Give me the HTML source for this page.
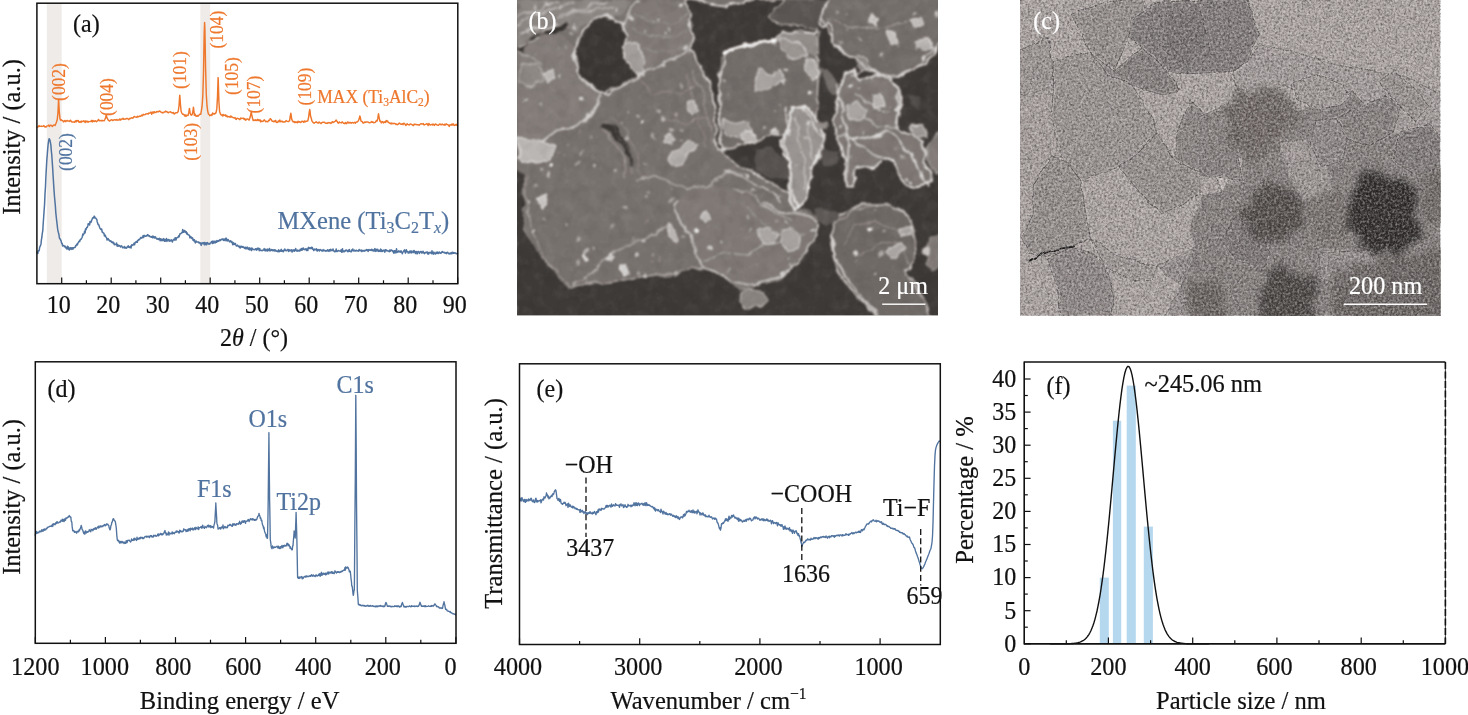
<!DOCTYPE html>
<html lang="en"><head><meta charset="utf-8"><title>Figure: MXene characterization</title>
<style>
html,body{margin:0;padding:0;background:#fff;}
body{width:1468px;height:715px;overflow:hidden;}
svg{display:block;}
svg text{font-family:"Liberation Serif","Times New Roman",serif;}
</style></head><body>
<svg width="1468" height="715" viewBox="0 0 1468 715">
<rect width="1468" height="715" fill="#fff"/>
<g id="panel-a">
<rect x="46.8" y="3.2" width="14.9" height="280.5" fill="#efebe8"/>
<rect x="200.3" y="3.2" width="9.9" height="280.5" fill="#efebe8"/>
<polyline points="36.9,127.7 37.6,126.9 38.3,126.7 39.0,125.6 39.7,126.4 40.4,126.3 41.1,126.4 41.8,126.1 42.5,126.4 43.2,126.1 43.9,125.6 44.6,126.8 45.3,126.8 46.0,127.2 46.7,126.2 47.4,125.9 48.1,125.7 48.8,125.1 49.5,126.5 50.2,125.3 50.9,125.2 51.6,125.6 52.3,126.5 53.0,125.7 53.7,125.0 54.4,125.0 55.1,125.5 55.8,123.8 56.5,121.9 57.2,119.8 57.9,113.4 58.6,99.5 58.6,99.5 59.3,112.0 60.0,118.9 60.7,120.3 61.4,119.7 62.1,120.6 62.8,120.6 63.5,121.9 64.2,121.2 64.9,120.4 65.6,121.7 66.3,121.1 67.0,120.4 67.7,121.0 68.4,121.0 69.1,120.9 69.8,121.4 70.5,120.2 71.2,121.2 71.9,122.0 72.6,121.9 73.3,122.0 74.0,122.0 74.7,122.3 75.4,120.8 76.1,121.9 76.8,120.4 77.5,121.1 78.2,120.4 78.9,122.1 79.6,122.2 80.3,121.4 81.0,122.4 81.7,121.1 82.4,121.5 83.1,121.5 83.8,120.8 84.5,121.6 85.2,122.4 85.9,120.8 86.6,121.8 87.3,121.2 88.0,122.3 88.7,121.5 89.4,121.6 90.1,121.6 90.8,121.4 91.5,120.4 92.2,122.0 92.9,120.4 93.6,121.3 94.3,121.5 95.0,120.7 95.7,121.2 96.4,121.7 97.1,121.1 97.8,120.6 98.5,119.4 99.2,120.5 99.9,120.7 100.6,120.7 101.3,120.4 102.0,121.0 102.7,120.4 103.4,120.6 104.1,120.8 104.8,119.5 105.5,118.1 106.2,115.3 106.3,115.0 106.9,117.6 107.6,118.8 108.3,120.1 109.0,120.6 109.7,121.0 110.4,120.3 111.1,119.9 111.8,119.8 112.5,120.5 113.2,120.3 113.9,119.8 114.6,119.9 115.3,119.7 116.0,120.3 116.7,119.4 117.4,120.0 118.1,120.2 118.8,119.9 119.5,119.1 120.2,120.2 120.9,119.0 121.6,119.6 122.3,118.9 123.0,118.2 123.7,119.3 124.4,119.2 125.1,118.9 125.8,119.1 126.5,118.5 127.2,118.4 127.9,118.6 128.6,119.7 129.3,119.0 130.0,118.2 130.7,118.6 131.4,117.9 132.1,117.7 132.8,118.3 133.5,117.3 134.2,116.5 134.9,116.8 135.6,117.1 136.3,117.0 137.0,117.4 137.7,116.2 138.4,116.8 139.1,116.5 139.8,116.0 140.5,116.3 141.2,115.9 141.9,115.0 142.6,115.8 143.3,114.3 144.0,114.8 144.7,114.6 145.4,114.6 146.1,113.8 146.8,113.9 147.5,113.7 148.2,114.1 148.9,112.9 149.6,113.2 150.3,112.8 151.0,112.1 151.7,114.2 152.4,112.6 153.1,111.7 153.8,113.2 154.5,111.7 155.2,112.4 155.9,112.6 156.6,111.6 157.3,111.7 158.0,111.5 158.7,111.8 159.4,111.0 160.1,111.2 160.8,111.9 161.5,112.6 162.2,112.4 162.9,113.0 163.6,112.5 164.3,111.9 165.0,112.1 165.7,111.1 166.4,111.8 167.1,111.8 167.8,112.5 168.5,112.8 169.2,112.1 169.9,112.1 170.6,111.7 171.3,112.6 172.0,112.8 172.7,113.0 173.4,112.4 174.1,114.0 174.8,113.6 175.5,113.0 176.2,112.7 176.9,112.7 177.6,112.5 178.3,110.9 179.0,106.0 179.7,95.5 179.8,95.2 180.4,103.8 181.1,111.3 181.8,113.0 182.5,114.2 183.2,114.2 183.9,114.4 184.6,116.0 185.3,114.9 186.0,116.4 186.7,115.2 187.4,115.4 188.1,115.4 188.8,112.4 189.4,108.4 189.5,108.6 190.2,113.5 190.9,114.9 191.6,115.2 192.3,114.1 193.0,111.0 193.4,107.3 193.7,109.0 194.4,115.3 195.1,114.2 195.8,116.0 196.5,116.2 197.2,115.6 197.9,116.2 198.6,115.6 199.3,114.6 200.0,114.2 200.7,114.3 201.4,110.7 202.1,106.2 202.8,95.7 203.5,72.7 204.2,33.2 204.6,22.5 204.9,29.3 205.6,69.2 206.3,94.5 207.0,105.7 207.7,111.1 208.4,114.0 209.1,114.5 209.8,115.7 210.5,115.3 211.2,114.7 211.9,115.4 212.6,112.9 213.3,113.7 214.0,114.2 214.7,113.5 215.4,113.6 216.1,112.3 216.8,108.9 217.5,96.9 218.1,77.6 218.2,78.3 218.9,101.5 219.6,111.8 220.3,113.4 221.0,114.9 221.7,115.0 222.4,115.9 223.1,114.4 223.8,115.7 224.5,115.4 225.2,114.8 225.9,116.2 226.6,115.4 227.3,116.9 228.0,116.5 228.7,116.8 229.4,116.6 230.1,117.2 230.8,115.9 231.5,117.1 232.2,116.9 232.9,117.6 233.6,117.6 234.3,118.1 235.0,117.5 235.7,119.1 236.4,119.4 237.1,118.2 237.8,118.4 238.5,118.6 239.2,119.2 239.9,119.7 240.6,118.1 241.3,118.5 242.0,118.3 242.7,118.4 243.4,118.2 244.1,119.4 244.8,118.6 245.5,120.2 246.2,119.9 246.9,119.0 247.6,119.0 248.3,119.2 249.0,120.2 249.7,118.5 250.4,116.3 251.1,112.5 251.3,112.0 251.8,114.9 252.5,118.1 253.2,120.5 253.9,120.1 254.6,120.4 255.3,119.8 256.0,120.4 256.7,120.4 257.4,119.3 258.1,120.7 258.8,119.7 259.5,120.7 260.2,119.9 260.9,121.9 261.6,121.0 262.3,121.4 263.0,121.5 263.7,120.3 264.4,119.8 265.1,120.9 265.8,121.7 266.5,121.3 267.2,121.7 267.9,121.7 268.6,120.3 269.3,120.6 270.0,119.3 270.2,118.6 270.7,119.0 271.4,119.8 272.1,121.2 272.8,121.2 273.5,121.7 274.2,121.0 274.9,121.6 275.6,120.4 276.3,122.1 277.0,122.5 277.7,122.3 278.4,120.8 279.1,121.8 279.8,120.0 280.5,121.8 281.2,121.6 281.9,121.1 282.6,121.9 283.3,121.8 284.0,122.2 284.7,121.8 285.4,121.8 286.1,120.6 286.8,121.1 287.5,121.4 288.2,121.7 288.9,121.2 289.6,120.9 290.3,115.8 290.8,113.3 291.0,114.0 291.7,119.1 292.4,120.8 293.1,121.8 293.8,121.4 294.5,122.6 295.2,121.7 295.9,122.5 296.6,121.9 297.3,122.7 298.0,121.2 298.7,122.2 299.4,121.7 300.1,122.1 300.8,122.6 301.5,121.4 302.2,121.3 302.9,121.5 303.6,122.2 304.3,121.0 305.0,122.0 305.7,121.2 306.4,121.1 307.1,121.2 307.8,120.8 308.5,118.0 309.2,112.4 309.7,109.5 309.9,110.2 310.6,116.3 311.3,118.5 312.0,121.1 312.7,121.9 313.4,122.7 314.1,123.3 314.8,122.6 315.5,122.4 316.2,121.8 316.9,122.5 317.6,122.9 318.3,123.2 319.0,122.0 319.7,122.6 320.4,123.0 321.1,123.6 321.8,122.7 322.5,122.3 323.2,122.2 323.9,122.4 324.6,122.3 325.3,123.1 326.0,123.3 326.7,123.1 327.4,123.4 328.1,122.5 328.8,123.0 329.5,122.6 330.2,122.8 330.9,123.4 331.6,122.7 332.3,121.7 333.0,122.6 333.7,122.2 334.4,121.6 335.1,121.4 335.8,120.6 336.2,120.0 336.5,120.7 337.2,121.4 337.9,122.9 338.6,123.2 339.3,122.0 340.0,122.6 340.7,122.6 341.4,122.8 342.1,121.8 342.8,122.5 343.5,123.2 344.2,123.3 344.9,123.7 345.6,122.5 346.3,123.7 347.0,123.0 347.7,121.9 348.4,123.0 349.1,122.4 349.8,122.9 350.5,122.5 351.2,123.2 351.9,122.7 352.6,122.4 353.3,123.1 354.0,122.7 354.7,122.3 355.4,123.2 356.1,122.2 356.8,122.0 357.5,121.9 358.2,120.9 358.9,119.7 359.6,116.9 359.8,116.0 360.3,117.3 361.0,121.0 361.7,121.3 362.4,121.9 363.1,123.2 363.8,122.9 364.5,122.1 365.2,122.4 365.9,122.0 366.6,122.0 367.3,121.9 368.0,121.9 368.7,122.6 369.4,122.7 370.1,122.7 370.8,122.3 371.5,121.6 372.2,122.3 372.9,121.8 373.6,122.8 374.3,122.6 375.0,122.6 375.7,121.8 376.4,120.6 377.1,121.1 377.8,118.4 378.5,113.8 378.5,113.8 379.2,117.8 379.9,121.2 380.6,121.0 381.3,122.9 382.0,121.9 382.7,121.6 383.4,122.9 384.1,122.3 384.8,121.8 385.5,122.5 386.2,120.4 386.9,121.5 387.0,121.3 387.6,120.9 388.3,122.5 389.0,122.6 389.7,123.2 390.4,123.7 391.1,122.9 391.8,123.9 392.5,123.4 393.2,123.3 393.9,123.7 394.6,123.4 395.3,123.6 396.0,124.5 396.7,124.0 397.4,124.7 398.1,124.3 398.8,123.5 399.5,123.1 400.2,123.7 400.9,124.3 401.6,124.2 402.3,123.7 403.0,124.7 403.7,123.2 404.4,123.5 405.1,124.3 405.8,125.5 406.5,124.5 407.2,123.7 407.9,124.6 408.6,124.7 409.3,124.9 410.0,124.1 410.7,123.9 411.4,124.5 412.1,124.6 412.8,125.3 413.5,125.6 414.2,124.1 414.9,124.2 415.6,124.5 416.3,124.4 417.0,124.8 417.7,124.8 418.4,124.7 419.1,125.3 419.8,124.5 420.5,124.0 421.2,123.7 421.9,124.0 422.6,124.0 423.3,123.6 424.0,125.0 424.7,124.7 425.4,124.4 426.1,124.1 426.8,123.7 427.5,124.1 428.2,125.6 428.9,123.4 429.6,124.7 430.3,125.0 431.0,124.7 431.7,124.4 432.4,125.0 433.1,124.0 433.8,124.9 434.5,125.4 435.2,124.0 435.9,124.1 436.6,124.7 437.3,125.1 438.0,125.3 438.7,125.0 439.4,124.2 440.1,124.0 440.8,124.7 441.5,124.8 442.2,124.0 442.9,124.6 443.6,124.8 444.3,125.2 445.0,124.1 445.7,124.9 446.4,124.0 447.1,124.4 447.8,124.6 448.5,125.4 449.2,126.4 449.9,124.7 450.6,124.9 451.3,125.2 452.0,123.9 452.7,125.0 453.4,123.9 454.1,125.5 454.8,125.4 455.5,124.9 456.2,124.2 456.9,125.5 457.6,124.7" fill="none" stroke="#ee772c" stroke-width="1.45" stroke-linejoin="round" />
<polyline points="36.9,253.3 37.4,252.1 37.8,253.5 38.3,250.9 38.7,250.5 39.2,250.7 39.6,247.5 40.1,246.4 40.5,245.6 41.0,243.9 41.4,239.9 41.9,237.0 42.3,233.3 42.8,230.5 43.2,223.5 43.7,216.7 44.1,210.7 44.6,203.8 45.0,193.9 45.5,186.5 45.9,176.3 46.4,167.4 46.8,160.1 47.3,154.2 47.7,148.9 48.2,143.8 48.6,141.2 49.1,138.7 49.5,139.2 50.0,140.4 50.4,142.3 50.9,145.3 51.3,150.5 51.8,155.3 52.2,161.2 52.7,168.6 53.1,175.7 53.6,183.8 54.0,189.9 54.5,196.8 54.9,201.0 55.4,206.5 55.8,212.6 56.3,217.3 56.7,220.8 57.2,225.2 57.6,228.7 58.1,231.6 58.5,232.9 59.0,235.0 59.4,238.0 59.9,239.0 60.3,239.1 60.8,240.4 61.2,241.3 61.7,243.4 62.1,243.3 62.6,245.9 63.0,245.5 63.5,245.5 63.9,245.4 64.4,246.8 64.8,246.3 65.3,246.2 65.7,247.7 66.2,247.6 66.6,248.9 67.1,248.3 67.5,246.2 68.0,249.0 68.4,247.1 68.9,249.7 69.3,250.0 69.8,248.3 70.2,247.8 70.7,247.7 71.1,249.4 71.6,248.3 72.0,247.8 72.5,247.8 72.9,249.3 73.4,247.7 73.8,247.8 74.3,247.6 74.7,247.5 75.2,247.3 75.6,245.7 76.1,245.8 76.5,244.7 77.0,244.1 77.4,244.9 77.9,243.0 78.3,242.7 78.8,241.6 79.2,241.1 79.7,241.5 80.1,239.9 80.6,239.3 81.0,239.4 81.5,238.5 81.9,237.8 82.4,236.4 82.8,234.1 83.3,235.0 83.7,234.0 84.2,233.5 84.6,231.2 85.1,232.8 85.5,229.1 86.0,229.6 86.4,228.4 86.9,227.3 87.3,227.5 87.8,225.9 88.2,223.7 88.7,223.8 89.1,224.3 89.6,224.9 90.0,221.4 90.5,221.9 90.9,222.5 91.4,221.3 91.8,220.0 92.3,218.7 92.7,217.8 93.2,218.1 93.6,218.0 94.1,216.3 94.5,216.3 95.0,218.1 95.4,218.0 95.9,218.2 96.3,219.0 96.8,219.4 97.2,221.7 97.7,223.3 98.1,224.6 98.6,224.5 99.0,225.6 99.5,227.0 99.9,228.1 100.4,228.8 100.8,229.5 101.3,229.0 101.7,229.2 102.2,232.0 102.6,232.1 103.1,233.0 103.5,233.0 104.0,233.3 104.4,235.9 104.9,235.8 105.3,235.2 105.8,236.9 106.2,237.4 106.7,238.1 107.1,240.0 107.6,238.9 108.0,238.5 108.5,239.8 108.9,239.6 109.4,240.8 109.8,240.9 110.3,241.3 110.7,240.9 111.2,241.9 111.6,241.5 112.1,242.6 112.5,242.3 113.0,242.0 113.4,243.5 113.9,242.9 114.3,244.7 114.8,244.2 115.2,244.5 115.7,244.4 116.1,244.5 116.6,243.0 117.0,245.9 117.5,244.6 117.9,246.2 118.4,245.2 118.8,245.8 119.3,246.0 119.7,245.6 120.2,246.4 120.6,247.0 121.1,246.4 121.5,245.8 122.0,246.4 122.4,247.1 122.9,247.9 123.3,247.7 123.8,247.4 124.2,246.5 124.7,248.0 125.1,247.5 125.6,247.3 126.0,248.3 126.5,248.0 126.9,247.8 127.4,246.4 127.8,246.7 128.3,245.8 128.7,247.2 129.2,246.9 129.6,247.5 130.1,246.9 130.5,246.3 131.0,248.1 131.4,245.4 131.9,244.8 132.3,245.0 132.8,245.5 133.2,244.5 133.7,244.0 134.1,243.2 134.6,244.8 135.0,242.8 135.5,242.1 135.9,242.5 136.4,241.5 136.8,241.5 137.3,242.3 137.7,240.5 138.2,240.3 138.6,239.6 139.1,239.3 139.5,239.6 140.0,238.9 140.4,238.0 140.9,237.4 141.3,237.7 141.8,238.2 142.2,237.4 142.7,237.1 143.1,235.6 143.6,237.5 144.0,235.4 144.5,235.5 144.9,236.1 145.4,236.3 145.8,236.3 146.3,235.6 146.7,235.9 147.2,235.6 147.6,234.6 148.1,235.7 148.5,235.3 149.0,236.1 149.4,235.8 149.9,236.7 150.3,236.6 150.8,236.9 151.2,237.2 151.7,237.0 152.1,236.4 152.6,237.7 153.0,236.1 153.5,236.8 153.9,237.6 154.4,236.9 154.8,237.9 155.3,236.9 155.7,237.3 156.2,238.3 156.6,238.7 157.1,239.2 157.5,238.5 158.0,238.9 158.4,239.4 158.9,239.5 159.3,238.3 159.8,239.1 160.2,240.7 160.7,238.8 161.1,240.3 161.6,239.5 162.0,240.7 162.5,239.4 162.9,240.1 163.4,238.6 163.8,240.2 164.3,241.1 164.7,239.3 165.2,241.3 165.6,240.0 166.1,240.6 166.5,238.5 167.0,241.4 167.4,239.9 167.9,240.1 168.3,239.5 168.8,239.7 169.2,241.3 169.7,240.0 170.1,241.1 170.6,240.2 171.0,240.6 171.5,239.9 171.9,240.6 172.4,242.1 172.8,240.4 173.3,240.1 173.7,239.2 174.2,240.1 174.6,240.1 175.1,237.7 175.5,237.7 176.0,240.1 176.4,238.4 176.9,237.7 177.3,237.6 177.8,237.6 178.2,236.9 178.7,235.7 179.1,236.9 179.6,235.0 180.0,233.8 180.5,233.7 180.9,233.6 181.4,233.0 181.8,232.7 182.3,232.7 182.7,229.6 183.2,231.1 183.6,232.2 184.1,231.7 184.5,230.5 185.0,230.8 185.4,232.4 185.9,231.7 186.3,231.8 186.8,234.0 187.2,233.0 187.7,234.4 188.1,234.4 188.6,235.1 189.0,234.9 189.5,235.6 189.9,237.8 190.4,236.4 190.8,237.8 191.3,237.1 191.7,238.2 192.2,238.7 192.6,237.9 193.1,240.3 193.5,239.7 194.0,241.1 194.4,239.8 194.9,241.6 195.3,242.9 195.8,241.5 196.2,241.0 196.7,242.1 197.1,242.0 197.6,242.0 198.0,242.2 198.5,242.1 198.9,243.0 199.4,242.6 199.8,242.5 200.3,243.8 200.7,243.1 201.2,245.3 201.6,243.1 202.1,242.8 202.5,243.0 203.0,243.7 203.4,242.9 203.9,242.5 204.3,244.7 204.8,242.6 205.2,244.7 205.7,243.7 206.1,242.8 206.6,244.7 207.0,243.3 207.5,242.6 207.9,243.3 208.4,244.1 208.8,243.6 209.3,243.6 209.7,244.2 210.2,243.0 210.6,243.0 211.1,242.5 211.5,241.5 212.0,242.4 212.4,243.6 212.9,241.0 213.3,243.2 213.8,242.3 214.2,241.3 214.7,241.9 215.1,243.1 215.6,241.2 216.0,242.1 216.5,242.2 216.9,240.6 217.4,241.6 217.8,241.5 218.3,240.6 218.7,241.3 219.2,240.4 219.6,240.2 220.1,239.5 220.5,240.6 221.0,239.9 221.4,239.7 221.9,239.1 222.3,238.9 222.8,239.2 223.2,240.2 223.7,239.0 224.1,240.6 224.6,239.7 225.0,239.5 225.5,238.4 225.9,240.7 226.4,238.3 226.8,239.9 227.3,241.0 227.7,239.8 228.2,239.6 228.6,240.3 229.1,241.2 229.5,241.9 230.0,241.6 230.4,240.7 230.9,241.3 231.3,242.3 231.8,241.5 232.2,242.6 232.7,244.7 233.1,242.6 233.6,244.6 234.0,243.3 234.5,244.0 234.9,244.4 235.4,243.5 235.8,244.8 236.3,246.0 236.7,245.8 237.2,246.0 237.6,245.1 238.1,245.8 238.5,246.3 239.0,246.8 239.4,247.5 239.9,246.0 240.3,248.1 240.8,246.8 241.2,246.9 241.7,246.3 242.1,247.2 242.6,247.2 243.0,246.5 243.5,247.4 243.9,247.8 244.4,247.5 244.8,248.5 245.3,247.2 245.7,248.7 246.2,248.0 246.6,248.6 247.1,247.0 247.5,248.6 248.0,248.5 248.4,249.3 248.9,247.8 249.3,249.8 249.8,248.0 250.2,249.8 250.7,249.3 251.1,248.3 251.6,250.6 252.0,248.1 252.5,248.9 252.9,249.2 253.4,249.5 253.8,249.3 254.3,249.8 254.7,249.6 255.2,249.3 255.6,248.7 256.1,249.1 256.5,250.1 257.0,248.6 257.4,249.6 257.9,248.0 258.3,249.1 258.8,248.5 259.2,250.7 259.7,248.4 260.1,249.6 260.6,250.4 261.0,250.3 261.5,250.4 261.9,250.7 262.4,250.2 262.8,250.5 263.3,249.9 263.7,249.9 264.2,248.6 264.6,250.1 265.1,251.0 265.5,249.5 266.0,249.2 266.4,250.1 266.9,250.9 267.3,251.0 267.8,249.0 268.2,250.5 268.7,249.7 269.1,250.4 269.6,248.5 270.0,250.9 270.5,249.9 270.9,250.4 271.4,250.1 271.8,249.5 272.3,250.7 272.7,249.9 273.2,249.8 273.6,250.8 274.1,250.3 274.5,249.9 275.0,251.1 275.4,250.0 275.9,250.4 276.3,251.0 276.8,251.2 277.2,251.4 277.7,251.7 278.1,250.6 278.6,249.9 279.0,251.8 279.5,251.6 279.9,250.4 280.4,251.1 280.8,250.3 281.3,249.4 281.7,251.3 282.2,250.8 282.6,250.6 283.1,251.8 283.5,251.6 284.0,250.0 284.4,249.7 284.9,249.1 285.3,250.5 285.8,250.2 286.2,250.7 286.7,250.5 287.1,250.0 287.6,250.1 288.0,249.3 288.5,251.4 288.9,250.0 289.4,250.9 289.8,249.9 290.3,250.4 290.7,250.9 291.2,250.2 291.6,249.8 292.1,252.1 292.5,250.2 293.0,250.8 293.4,250.3 293.9,249.7 294.3,251.3 294.8,250.6 295.2,250.6 295.7,248.6 296.1,250.5 296.6,250.9 297.0,250.5 297.5,250.1 297.9,251.1 298.4,250.4 298.8,250.7 299.3,251.0 299.7,251.0 300.2,249.2 300.6,250.4 301.1,249.5 301.5,248.5 302.0,250.2 302.4,248.6 302.9,249.5 303.3,247.9 303.8,249.0 304.2,249.4 304.7,249.7 305.1,249.2 305.6,248.9 306.0,248.8 306.5,250.6 306.9,249.0 307.4,249.1 307.8,250.5 308.3,247.7 308.7,247.4 309.2,248.1 309.6,248.4 310.1,247.8 310.5,248.5 311.0,248.4 311.4,247.2 311.9,248.5 312.3,247.4 312.8,249.2 313.2,249.0 313.7,250.6 314.1,249.8 314.6,249.1 315.0,249.7 315.5,249.7 315.9,249.2 316.4,248.7 316.8,250.7 317.3,251.0 317.7,249.6 318.2,249.8 318.6,249.6 319.1,250.8 319.5,251.0 320.0,249.4 320.4,249.9 320.9,249.8 321.3,250.4 321.8,250.8 322.2,251.1 322.7,250.1 323.1,249.6 323.6,250.8 324.0,250.9 324.5,250.2 324.9,250.6 325.4,250.8 325.8,251.2 326.3,250.6 326.7,250.9 327.2,250.7 327.6,249.8 328.1,251.1 328.5,250.6 329.0,251.4 329.4,249.7 329.9,250.1 330.3,250.9 330.8,249.3 331.2,250.5 331.7,250.3 332.1,250.3 332.6,250.5 333.0,249.0 333.5,250.7 333.9,250.7 334.4,251.5 334.8,251.8 335.3,251.0 335.7,251.4 336.2,248.9 336.6,251.1 337.1,251.6 337.5,251.4 338.0,250.9 338.4,250.5 338.9,250.5 339.3,250.8 339.8,251.1 340.2,251.2 340.7,250.7 341.1,249.9 341.6,252.2 342.0,250.2 342.5,248.8 342.9,251.9 343.4,251.6 343.8,251.0 344.3,251.6 344.7,251.2 345.2,250.3 345.6,251.0 346.1,250.0 346.5,250.4 347.0,250.3 347.4,251.1 347.9,251.8 348.3,250.5 348.8,251.3 349.2,249.4 349.7,250.2 350.1,251.4 350.6,251.7 351.0,251.7 351.5,251.7 351.9,249.7 352.4,250.5 352.8,248.9 353.3,250.7 353.7,251.0 354.2,250.6 354.6,250.1 355.1,251.1 355.5,251.1 356.0,250.8 356.4,250.2 356.9,250.7 357.3,250.7 357.8,250.8 358.2,251.1 358.7,250.6 359.1,249.5 359.6,250.3 360.0,250.8 360.5,250.2 360.9,250.7 361.4,250.0 361.8,251.5 362.3,250.7 362.7,250.5 363.2,251.0 363.6,250.9 364.1,250.4 364.5,251.1 365.0,250.8 365.4,250.5 365.9,250.3 366.3,249.5 366.8,250.5 367.2,250.5 367.7,249.7 368.1,251.4 368.6,250.3 369.0,249.5 369.5,250.0 369.9,250.3 370.4,250.3 370.8,249.8 371.3,250.4 371.7,249.3 372.2,250.0 372.6,250.7 373.1,249.9 373.5,250.9 374.0,251.0 374.4,249.9 374.9,248.6 375.3,251.1 375.8,251.4 376.2,249.2 376.7,250.6 377.1,250.7 377.6,249.2 378.0,250.0 378.5,251.4 378.9,250.6 379.4,250.5 379.8,251.3 380.3,250.0 380.7,249.1 381.2,251.5 381.6,249.9 382.1,250.5 382.5,251.4 383.0,250.7 383.4,250.6 383.9,250.1 384.3,251.0 384.8,252.2 385.2,250.1 385.7,249.7 386.1,250.8 386.6,250.1 387.0,250.7 387.5,250.7 387.9,251.1 388.4,250.9 388.8,251.0 389.3,251.7 389.7,250.1 390.2,250.8 390.6,251.1 391.1,249.9 391.5,250.2 392.0,250.6 392.4,250.5 392.9,251.8 393.3,251.1 393.8,253.2 394.2,250.7 394.7,250.8 395.1,252.8 395.6,250.7 396.0,252.8 396.5,248.8 396.9,250.7 397.4,252.2 397.8,252.4 398.3,251.6 398.7,250.8 399.2,251.2 399.6,251.9 400.1,251.6 400.5,252.1 401.0,250.8 401.4,252.0 401.9,252.4 402.3,253.8 402.8,252.0 403.2,252.0 403.7,250.9 404.1,250.5 404.6,249.9 405.0,251.9 405.5,253.1 405.9,251.6 406.4,249.8 406.8,251.8 407.3,251.6 407.7,251.5 408.2,253.1 408.6,252.7 409.1,252.9 409.5,251.2 410.0,252.1 410.4,251.0 410.9,252.8 411.3,251.1 411.8,252.9 412.2,252.1 412.7,252.1 413.1,250.9 413.6,252.5 414.0,250.6 414.5,251.1 414.9,251.3 415.4,253.6 415.8,252.2 416.3,251.6 416.7,252.5 417.2,253.9 417.6,252.0 418.1,251.4 418.5,251.4 419.0,252.2 419.4,253.5 419.9,252.1 420.3,252.1 420.8,251.5 421.2,251.4 421.7,253.1 422.1,252.6 422.6,252.7 423.0,251.3 423.5,252.8 423.9,252.6 424.4,253.6 424.8,253.2 425.3,252.3 425.7,252.7 426.2,252.7 426.6,252.4 427.1,251.9 427.5,253.2 428.0,254.3 428.4,252.5 428.9,253.8 429.3,252.4 429.8,252.4 430.2,252.6 430.7,252.4 431.1,253.4 431.6,253.6 432.0,250.8 432.5,253.4 432.9,253.1 433.4,254.1 433.8,252.1 434.3,252.9 434.7,253.7 435.2,253.5 435.6,254.0 436.1,252.3 436.5,252.4 437.0,253.3 437.4,251.9 437.9,253.3 438.3,253.6 438.8,253.2 439.2,251.9 439.7,252.5 440.1,252.7 440.6,253.3 441.0,253.2 441.5,252.7 441.9,251.7 442.4,251.6 442.8,252.3 443.3,252.3 443.7,252.6 444.2,252.2 444.6,253.0 445.1,252.6 445.5,253.2 446.0,253.1 446.4,253.6 446.9,252.4 447.3,252.5 447.8,252.3 448.2,253.2 448.7,253.7 449.1,254.0 449.6,253.3 450.0,253.1 450.5,253.8 450.9,253.2 451.4,252.5 451.8,253.8 452.3,252.9 452.7,252.2 453.2,253.1 453.6,252.7 454.1,253.3 454.5,252.8 455.0,253.1 455.4,252.9 455.9,253.3 456.3,253.8 456.8,253.6 457.2,253.4 457.7,254.2" fill="none" stroke="#50739f" stroke-width="1.5" stroke-linejoin="round" />
<rect x="36.9" y="3.2" width="420.90000000000003" height="280.5" fill="none" stroke="#111" stroke-width="1.5"/>
<line x1="61.7" y1="283.7" x2="61.7" y2="277.4" stroke="#111" stroke-width="1.2" />
<text transform="translate(58.7 313.2) scale(1.0 1.06)" font-size="24" fill="#111" stroke="#111" stroke-width="0.2" text-anchor="middle" >10</text>
<line x1="111.2" y1="283.7" x2="111.2" y2="277.4" stroke="#111" stroke-width="1.2" />
<text transform="translate(108.2 313.2) scale(1.0 1.06)" font-size="24" fill="#111" stroke="#111" stroke-width="0.2" text-anchor="middle" >20</text>
<line x1="160.7" y1="283.7" x2="160.7" y2="277.4" stroke="#111" stroke-width="1.2" />
<text transform="translate(157.7 313.2) scale(1.0 1.06)" font-size="24" fill="#111" stroke="#111" stroke-width="0.2" text-anchor="middle" >30</text>
<line x1="210.2" y1="283.7" x2="210.2" y2="277.4" stroke="#111" stroke-width="1.2" />
<text transform="translate(207.2 313.2) scale(1.0 1.06)" font-size="24" fill="#111" stroke="#111" stroke-width="0.2" text-anchor="middle" >40</text>
<line x1="259.7" y1="283.7" x2="259.7" y2="277.4" stroke="#111" stroke-width="1.2" />
<text transform="translate(256.7 313.2) scale(1.0 1.06)" font-size="24" fill="#111" stroke="#111" stroke-width="0.2" text-anchor="middle" >50</text>
<line x1="309.2" y1="283.7" x2="309.2" y2="277.4" stroke="#111" stroke-width="1.2" />
<text transform="translate(306.2 313.2) scale(1.0 1.06)" font-size="24" fill="#111" stroke="#111" stroke-width="0.2" text-anchor="middle" >60</text>
<line x1="358.7" y1="283.7" x2="358.7" y2="277.4" stroke="#111" stroke-width="1.2" />
<text transform="translate(355.7 313.2) scale(1.0 1.06)" font-size="24" fill="#111" stroke="#111" stroke-width="0.2" text-anchor="middle" >70</text>
<line x1="408.2" y1="283.7" x2="408.2" y2="277.4" stroke="#111" stroke-width="1.2" />
<text transform="translate(405.2 313.2) scale(1.0 1.06)" font-size="24" fill="#111" stroke="#111" stroke-width="0.2" text-anchor="middle" >80</text>
<line x1="457.7" y1="283.7" x2="457.7" y2="277.4" stroke="#111" stroke-width="1.2" />
<text transform="translate(454.7 313.2) scale(1.0 1.06)" font-size="24" fill="#111" stroke="#111" stroke-width="0.2" text-anchor="middle" >90</text>
<line x1="86.4" y1="283.7" x2="86.4" y2="280.3" stroke="#111" stroke-width="1.2" />
<line x1="135.9" y1="283.7" x2="135.9" y2="280.3" stroke="#111" stroke-width="1.2" />
<line x1="185.4" y1="283.7" x2="185.4" y2="280.3" stroke="#111" stroke-width="1.2" />
<line x1="234.9" y1="283.7" x2="234.9" y2="280.3" stroke="#111" stroke-width="1.2" />
<line x1="284.4" y1="283.7" x2="284.4" y2="280.3" stroke="#111" stroke-width="1.2" />
<line x1="334.0" y1="283.7" x2="334.0" y2="280.3" stroke="#111" stroke-width="1.2" />
<line x1="383.5" y1="283.7" x2="383.5" y2="280.3" stroke="#111" stroke-width="1.2" />
<line x1="433.0" y1="283.7" x2="433.0" y2="280.3" stroke="#111" stroke-width="1.2" />
<text transform="translate(254.0 345.5) scale(1.0 1.06)" font-size="24" fill="#111" stroke="#111" stroke-width="0.2" text-anchor="middle" >2<tspan font-style="italic">θ</tspan> / (°)</text>
<text transform="translate(20.3 137.0) rotate(-90) scale(1.0 1.06)" font-size="24.4" fill="#111" stroke="#111" stroke-width="0.2" text-anchor="middle" >Intensity / (a.u.)</text>
<text transform="translate(73.0 31.6) scale(1.0 1.06)" font-size="24" fill="#111" stroke="#111" stroke-width="0.2" text-anchor="start" >(a)</text>
<text transform="translate(65.2 82.0) rotate(-90) scale(1.0 1.06)" font-size="17.5" fill="#ee772c" stroke="#ee772c" stroke-width="0.2" text-anchor="middle" >(002)</text>
<text transform="translate(112.8 97.0) rotate(-90) scale(1.0 1.06)" font-size="17.5" fill="#ee772c" stroke="#ee772c" stroke-width="0.2" text-anchor="middle" >(004)</text>
<text transform="translate(185.5 70.0) rotate(-90) scale(1.0 1.06)" font-size="17.5" fill="#ee772c" stroke="#ee772c" stroke-width="0.2" text-anchor="middle" >(101)</text>
<text transform="translate(196.5 141.8) rotate(-90) scale(1.0 1.06)" font-size="17.5" fill="#ee772c" stroke="#ee772c" stroke-width="0.2" text-anchor="middle" >(103)</text>
<text transform="translate(223.0 29.6) rotate(-90) scale(1.0 1.06)" font-size="17.5" fill="#ee772c" stroke="#ee772c" stroke-width="0.2" text-anchor="middle" >(104)</text>
<text transform="translate(237.5 76.0) rotate(-90) scale(1.0 1.06)" font-size="17.5" fill="#ee772c" stroke="#ee772c" stroke-width="0.2" text-anchor="middle" >(105)</text>
<text transform="translate(260.0 94.5) rotate(-90) scale(1.0 1.06)" font-size="17.5" fill="#ee772c" stroke="#ee772c" stroke-width="0.2" text-anchor="middle" >(107)</text>
<text transform="translate(310.5 86.5) rotate(-90) scale(1.0 1.06)" font-size="17.5" fill="#ee772c" stroke="#ee772c" stroke-width="0.2" text-anchor="middle" >(109)</text>
<text transform="translate(71.7 152.0) rotate(-90) scale(1.0 1.06)" font-size="17.5" fill="#50739f" stroke="#50739f" stroke-width="0.2" text-anchor="middle" >(002)</text>
<text transform="translate(317.3 103.2) scale(1.0 1.06)" font-size="17.5" fill="#ee772c" stroke="#ee772c" stroke-width="0.2" text-anchor="start" >MAX (Ti<tspan font-size="11.5" dy="2.5">3</tspan><tspan dy="-2.5">AlC</tspan><tspan font-size="11.5" dy="2.5">2</tspan><tspan dy="-2.5">)</tspan></text>
<text transform="translate(277.5 229.0) scale(1.0 1.06)" font-size="24.6" fill="#50739f" stroke="#50739f" stroke-width="0.2" text-anchor="start" >MXene (Ti<tspan font-size="16" dy="3.5">3</tspan><tspan dy="-3.5">C</tspan><tspan font-size="16" dy="3.5">2</tspan><tspan dy="-3.5">T</tspan><tspan font-size="16" dy="3.5" font-style="italic">x</tspan><tspan dy="-3.5">)</tspan></text>
</g>
<g id="panel-d">
<polyline points="35.3,535.7 35.3,534.3 35.8,533.8 36.2,533.4 36.7,531.4 37.1,533.3 37.6,532.8 38.0,532.4 38.5,532.8 38.9,532.7 39.4,531.2 39.8,531.1 40.3,531.2 40.7,531.9 41.2,531.6 41.6,529.8 42.1,529.7 42.5,531.0 43.0,531.4 43.4,529.8 43.9,529.1 44.3,530.3 44.8,528.9 45.0,529.0 45.2,529.5 45.7,529.9 46.1,529.0 46.6,528.3 47.0,528.6 47.5,527.3 47.9,527.4 48.4,526.9 48.8,526.9 49.3,526.5 49.7,526.5 50.2,526.1 50.6,526.3 51.1,526.0 51.5,526.0 52.0,526.6 52.4,524.1 52.9,526.1 53.0,525.0 53.3,524.7 53.8,523.6 54.2,524.2 54.7,524.2 55.1,524.8 55.6,522.8 56.0,523.6 56.5,523.3 56.9,521.7 57.4,521.8 57.8,523.0 58.3,522.9 58.7,522.9 59.2,522.3 59.6,521.9 60.1,521.5 60.4,521.2 60.5,522.1 61.0,520.3 61.4,520.7 61.9,521.0 62.3,519.2 62.8,521.4 63.2,519.5 63.7,519.9 64.1,521.6 64.6,519.0 65.0,519.5 65.0,519.1 65.5,520.3 65.9,517.8 66.4,517.8 66.8,518.2 67.3,517.7 67.7,517.3 68.2,516.7 68.6,517.1 69.1,516.4 69.2,515.4 69.5,516.5 70.0,516.4 70.4,517.2 70.9,517.2 71.0,519.0 71.3,521.3 71.8,522.0 72.2,526.9 72.7,530.4 73.0,531.0 73.1,530.2 73.6,530.7 74.0,531.1 74.5,532.4 74.9,531.3 75.4,532.1 75.8,532.0 76.0,532.5 76.3,532.2 76.7,533.2 77.2,531.2 77.6,531.8 78.1,531.7 78.5,531.9 79.0,530.0 79.0,531.0 79.4,530.9 79.9,529.3 80.3,528.6 80.8,526.9 81.0,526.2 81.2,525.4 81.7,527.2 82.1,529.5 82.6,529.9 83.0,531.0 83.0,531.0 83.5,532.8 83.9,533.6 84.4,532.2 84.8,534.2 85.0,532.8 85.3,531.1 85.7,530.9 86.2,533.0 86.6,531.9 87.1,532.4 87.5,532.1 88.0,531.5 88.4,531.9 88.9,531.3 89.3,529.7 89.8,530.9 90.2,530.7 90.7,531.8 91.1,529.3 91.6,530.0 92.0,529.5 92.5,529.5 92.9,530.7 93.4,529.5 93.8,528.6 94.3,528.9 94.7,529.2 95.0,528.5 95.2,527.7 95.6,528.1 96.1,529.4 96.5,528.7 97.0,527.8 97.4,527.3 97.9,527.5 98.3,526.2 98.8,528.0 99.2,527.4 99.7,527.1 100.1,525.8 100.6,526.1 101.0,527.0 101.5,526.6 101.9,525.9 102.4,526.5 102.8,526.7 103.3,525.3 103.7,525.3 104.2,524.8 104.6,524.5 105.1,525.9 105.5,525.5 105.8,525.0 106.0,525.2 106.4,523.9 106.9,523.9 107.3,524.6 107.8,524.2 108.0,524.5 108.2,525.0 108.7,525.3 109.1,527.3 109.6,529.2 110.0,528.7 110.0,529.9 110.5,528.5 110.9,525.7 111.4,524.9 111.8,522.4 112.0,522.0 112.3,522.1 112.7,519.9 113.2,518.7 113.3,518.7 113.6,518.6 114.1,520.3 114.5,520.5 115.0,521.1 115.0,521.0 115.4,522.1 115.9,525.4 116.0,526.0 116.3,528.1 116.8,535.3 117.2,538.8 117.3,540.0 117.7,540.6 118.1,540.9 118.6,540.2 119.0,542.0 119.0,540.9 119.5,542.1 119.9,543.4 120.4,541.5 120.8,541.9 121.3,542.6 121.7,541.4 122.0,542.8 122.2,541.4 122.6,542.3 123.1,542.5 123.5,542.1 124.0,543.6 124.4,542.1 124.9,542.4 125.3,543.3 125.8,543.3 126.2,540.6 126.7,541.5 127.1,542.6 127.6,540.4 128.0,540.7 128.5,540.3 128.9,540.2 129.4,540.2 129.8,541.2 130.0,541.0 130.3,541.9 130.7,542.0 131.2,540.7 131.6,539.0 132.1,540.4 132.5,540.0 133.0,540.5 133.4,540.0 133.9,538.5 134.3,540.2 134.8,538.1 135.2,539.0 135.7,539.7 136.1,539.6 136.6,540.5 137.0,537.2 137.5,539.2 137.9,539.4 138.4,538.5 138.8,539.1 139.3,537.6 139.7,538.9 140.2,538.7 140.6,537.3 141.0,538.0 141.1,537.5 141.5,537.7 142.0,537.3 142.4,538.6 142.9,537.8 143.3,538.6 143.8,538.4 144.2,537.4 144.7,537.1 145.1,536.4 145.6,536.4 146.0,536.4 146.5,537.2 146.9,536.1 147.4,536.8 147.8,536.8 148.3,536.2 148.7,536.3 149.2,537.5 149.6,537.6 150.1,535.6 150.5,535.9 151.0,535.7 151.0,536.0 151.4,535.7 151.9,537.1 152.3,536.4 152.8,536.8 153.2,537.1 153.7,535.3 154.1,535.4 154.6,535.5 155.0,536.3 155.5,535.3 155.9,535.8 156.4,536.2 156.8,536.1 157.3,535.5 157.7,534.5 158.2,533.8 158.6,535.9 159.1,535.3 159.5,534.1 160.0,534.4 160.4,534.4 160.9,533.3 161.3,534.8 161.8,533.9 162.0,534.5 162.2,534.1 162.7,534.7 163.1,533.7 163.5,533.5 163.6,533.8 164.0,532.8 164.5,531.6 164.9,530.7 165.0,530.5 165.4,532.9 165.8,532.5 166.3,535.1 166.5,534.5 166.7,533.7 167.2,534.9 167.6,534.4 168.1,533.6 168.5,531.9 169.0,535.2 169.4,532.9 169.9,533.0 170.3,533.8 170.8,533.6 171.2,533.7 171.7,533.1 172.1,532.0 172.6,533.8 173.0,532.3 173.5,533.1 173.9,533.3 174.4,533.7 174.8,532.5 175.3,532.3 175.7,532.2 176.2,530.9 176.3,532.3 176.6,531.6 177.1,531.3 177.5,531.1 178.0,532.1 178.4,531.6 178.9,533.1 179.3,532.9 179.8,530.1 180.2,531.6 180.7,530.6 181.1,531.8 181.6,531.4 182.0,531.9 182.5,531.3 182.9,531.6 183.4,530.6 183.8,528.8 184.3,529.7 184.7,529.9 185.2,530.1 185.6,529.6 186.1,531.6 186.5,530.1 187.0,531.2 187.4,529.8 187.9,531.3 188.3,528.9 188.8,530.2 189.2,528.6 189.7,529.9 190.0,529.5 190.1,530.8 190.6,528.1 191.0,528.6 191.5,529.4 191.9,529.0 192.4,528.0 192.8,529.9 193.3,528.9 193.7,529.8 194.2,529.0 194.6,527.7 195.1,528.1 195.5,529.6 196.0,527.3 196.4,527.9 196.9,528.7 197.3,528.9 197.8,528.7 198.2,526.8 198.7,529.5 199.1,527.6 199.6,527.7 200.0,527.6 200.5,527.3 200.9,526.6 201.4,527.1 201.5,527.3 201.8,528.3 202.3,526.1 202.7,525.2 203.2,527.5 203.6,527.3 204.1,527.6 204.5,528.3 205.0,526.3 205.4,526.9 205.9,527.1 206.3,527.7 206.8,527.4 207.2,525.9 207.7,525.4 208.1,526.2 208.6,525.1 209.0,527.2 209.5,526.0 209.9,525.9 210.0,526.2 210.4,525.6 210.8,527.6 211.3,526.7 211.7,526.3 212.2,527.2 212.6,526.7 213.1,527.4 213.5,527.0 213.5,528.1 214.0,525.1 214.4,523.9 214.8,522.0 214.9,521.4 215.3,513.4 215.8,504.4 215.8,503.0 216.2,510.6 216.7,518.6 216.8,522.0 217.1,523.9 217.6,525.2 218.0,528.5 218.0,529.0 218.5,528.5 218.9,528.8 219.4,527.9 219.8,527.6 220.3,527.4 220.7,529.0 221.2,527.9 221.6,527.8 222.1,526.5 222.5,527.8 223.0,525.0 223.4,528.8 223.9,527.5 224.3,527.6 224.8,526.4 225.0,527.5 225.2,526.6 225.7,527.8 226.1,527.0 226.6,527.4 227.0,527.9 227.5,527.3 227.9,525.1 228.4,525.7 228.8,525.5 229.3,525.5 229.7,524.4 230.2,524.3 230.6,525.2 231.1,525.2 231.5,526.0 232.0,525.2 232.4,526.4 232.9,523.7 233.3,523.9 233.8,525.1 234.2,524.5 234.7,523.8 235.0,524.5 235.1,525.1 235.6,525.2 236.0,525.2 236.5,523.7 236.9,523.9 237.4,524.0 237.8,523.7 238.3,524.3 238.7,523.0 239.2,523.5 239.6,521.3 240.1,523.6 240.5,524.2 241.0,522.7 241.4,523.4 241.9,521.1 242.3,522.0 242.8,520.9 243.2,522.3 243.7,522.3 244.1,520.7 244.6,521.0 245.0,521.5 245.0,521.0 245.5,523.3 245.9,521.2 246.4,521.2 246.8,521.2 247.3,521.0 247.7,520.5 248.2,519.4 248.6,519.8 249.1,521.5 249.5,520.3 250.0,519.7 250.4,518.7 250.9,519.6 251.3,519.6 251.8,518.9 252.2,520.0 252.7,518.6 253.0,519.0 253.1,518.9 253.6,519.9 254.0,519.5 254.5,520.4 254.9,519.4 255.4,519.4 255.8,520.3 256.0,520.0 256.3,519.7 256.7,519.5 257.2,518.0 257.6,516.8 258.1,516.3 258.5,515.5 258.9,514.2 259.0,513.4 259.4,515.2 259.9,516.1 260.3,518.4 260.8,518.0 261.0,519.0 261.2,520.5 261.7,520.2 262.1,522.7 262.6,525.1 263.0,525.5 263.5,528.2 263.9,528.8 263.9,527.2 264.4,530.4 264.8,532.0 265.3,533.3 265.7,533.8 266.0,536.0 266.2,536.7 266.6,534.9 267.1,538.2 267.5,538.0 267.5,538.2 268.0,514.4 268.2,500.0 268.4,480.5 268.9,436.5 268.9,432.6 269.3,470.7 269.6,500.0 269.8,508.2 270.2,534.8 270.3,540.0 270.7,542.2 271.1,545.9 271.4,547.6 271.6,548.0 272.0,548.7 272.5,545.9 272.9,547.2 273.4,548.0 273.8,548.0 274.3,546.9 274.7,547.1 275.0,547.3 275.2,547.2 275.6,547.4 276.1,546.8 276.5,546.6 277.0,546.2 277.4,546.8 277.9,548.1 278.3,546.2 278.8,547.7 279.2,548.4 279.7,547.0 280.0,546.8 280.1,548.7 280.6,546.6 281.0,548.0 281.5,546.5 281.9,545.5 282.4,546.7 282.8,547.8 283.3,545.7 283.7,546.5 284.2,545.2 284.6,545.3 285.1,546.2 285.3,545.8 285.5,545.5 286.0,545.7 286.4,545.8 286.9,543.5 287.3,543.4 287.8,543.6 287.8,543.5 288.2,545.9 288.7,544.4 289.1,544.9 289.6,546.3 290.0,546.5 290.0,548.2 290.5,546.9 290.9,548.0 291.4,549.1 291.6,549.5 291.8,549.7 292.3,549.7 292.7,545.8 293.0,546.0 293.2,542.7 293.6,538.0 294.1,532.2 294.1,531.0 294.5,531.8 295.0,536.0 295.2,538.0 295.4,533.1 295.9,519.2 296.1,512.4 296.3,520.1 296.8,536.2 297.0,545.0 297.2,556.4 297.6,577.3 297.7,577.7 298.1,577.6 298.6,578.4 299.0,577.0 299.5,577.6 299.9,578.5 300.0,577.5 300.4,577.1 300.8,577.1 301.3,576.7 301.7,576.5 302.2,578.8 302.6,577.4 303.1,578.5 303.5,577.5 304.0,576.9 304.4,576.5 304.9,576.8 305.0,576.5 305.3,576.5 305.8,577.2 306.2,575.8 306.7,576.5 307.1,576.7 307.6,576.1 308.0,576.1 308.5,576.6 308.9,576.6 309.4,576.0 309.8,576.0 310.3,575.5 310.7,576.4 311.2,575.8 311.6,574.6 312.1,575.5 312.5,576.2 313.0,575.9 313.4,574.9 313.9,576.1 314.3,576.0 314.8,575.9 315.2,576.6 315.5,575.3 315.7,575.1 316.1,575.7 316.6,575.0 317.0,575.9 317.5,576.0 317.9,575.4 318.4,575.5 318.8,574.2 319.3,575.3 319.7,573.7 320.2,576.3 320.6,575.5 321.1,573.2 321.5,572.3 322.0,575.4 322.4,573.6 322.9,574.6 323.3,573.1 323.8,574.1 324.2,573.4 324.7,574.3 325.1,573.5 325.6,574.9 326.0,573.0 326.5,574.6 326.9,573.5 327.4,573.9 327.8,572.1 328.3,571.9 328.7,574.1 329.2,572.2 329.6,572.8 330.0,573.0 330.1,572.7 330.5,572.2 331.0,573.0 331.4,571.7 331.9,571.8 332.3,573.4 332.8,572.0 333.2,573.2 333.7,573.0 334.1,573.6 334.6,572.7 335.0,570.8 335.5,571.7 335.9,571.8 336.4,573.1 336.8,572.3 337.3,571.6 337.7,572.3 338.2,571.6 338.6,572.2 339.1,571.9 339.5,572.6 340.0,571.9 340.4,572.3 340.7,571.5 340.9,571.4 341.3,571.9 341.8,571.0 342.2,571.5 342.7,571.0 343.1,570.5 343.6,570.1 344.0,570.3 344.0,570.1 344.5,570.3 344.9,567.7 345.4,570.1 345.8,566.8 346.3,568.1 346.7,567.6 347.2,568.1 347.6,567.3 347.7,567.0 348.1,567.6 348.5,568.5 349.0,569.9 349.4,571.8 349.9,571.0 350.0,571.0 350.3,571.6 350.8,576.2 351.2,580.1 351.5,582.0 351.7,585.8 352.1,585.9 352.6,589.5 353.0,593.6 353.3,595.4 353.5,594.8 353.9,591.1 354.3,590.0 354.4,585.1 354.8,532.7 355.1,500.0 355.3,477.4 355.7,411.3 355.8,395.3 356.2,446.6 356.5,500.0 356.6,511.0 357.1,562.4 357.3,590.0 357.5,592.8 358.0,599.0 358.3,604.3 358.4,604.2 358.9,604.9 359.3,604.4 359.8,605.0 360.0,605.3 360.2,604.9 360.7,605.0 361.1,605.8 361.6,605.4 362.0,605.4 362.5,605.7 362.9,605.4 363.4,605.3 363.8,606.0 364.3,606.0 364.7,605.5 365.0,605.8 365.2,606.0 365.6,606.3 366.1,606.0 366.5,606.0 367.0,605.5 367.4,605.8 367.9,605.3 368.3,606.2 368.8,605.9 369.2,606.3 369.7,605.7 370.1,606.2 370.6,605.5 371.0,605.9 371.5,606.2 371.9,606.1 372.4,606.0 372.8,605.6 373.3,606.5 373.7,606.3 374.2,606.4 374.6,606.5 375.1,606.0 375.5,606.3 376.0,607.0 376.4,605.9 376.9,606.3 377.3,606.0 377.8,606.8 378.2,606.3 378.7,605.9 379.1,606.1 379.6,605.9 380.0,606.3 380.0,605.6 380.5,605.5 380.9,606.1 381.4,606.0 381.8,606.3 382.3,606.0 382.7,606.4 383.2,606.8 383.6,605.9 384.1,605.9 384.5,606.3 384.5,606.6 385.0,605.9 385.4,603.8 385.9,602.4 386.0,602.5 386.3,603.2 386.8,604.3 387.2,605.8 387.5,606.3 387.7,606.0 388.1,606.2 388.6,606.2 389.0,605.8 389.5,605.8 389.9,606.5 390.4,606.5 390.8,606.1 391.3,606.8 391.7,606.6 392.2,606.5 392.6,606.5 393.1,606.4 393.5,606.6 394.0,606.6 394.4,606.4 394.9,605.7 395.3,606.3 395.8,606.1 396.2,606.0 396.7,606.5 397.1,605.8 397.6,606.6 398.0,606.2 398.5,606.0 398.9,606.1 399.4,607.1 399.8,606.8 400.3,606.3 400.7,606.7 401.0,606.4 401.2,606.5 401.6,604.5 402.1,603.4 402.4,602.5 402.5,603.1 403.0,604.2 403.4,605.2 403.8,606.4 403.9,606.9 404.3,606.5 404.8,606.6 405.2,607.1 405.7,606.5 406.1,607.2 406.6,606.5 407.0,606.3 407.5,606.4 407.9,606.6 408.4,606.6 408.8,606.5 409.3,605.9 409.7,606.0 410.2,606.3 410.6,606.6 411.1,606.8 411.5,605.6 412.0,606.3 412.4,606.2 412.9,606.3 413.3,606.4 413.8,606.1 414.2,605.9 414.7,606.6 415.1,606.5 415.6,606.2 416.0,606.3 416.5,606.1 416.9,605.9 417.4,606.5 417.8,606.1 418.3,606.0 418.5,606.3 418.7,605.6 419.2,605.1 419.6,603.5 420.0,602.3 420.1,602.5 420.5,603.7 421.0,605.1 421.4,606.3 421.5,606.3 421.9,605.9 422.3,606.2 422.8,606.1 423.2,606.4 423.7,606.3 424.1,605.7 424.6,606.6 425.0,606.4 425.5,605.8 425.9,606.6 426.4,606.3 426.8,606.4 427.3,606.3 427.7,606.3 428.2,606.1 428.6,605.8 429.1,606.1 429.5,606.3 430.0,606.3 430.0,606.3 430.4,606.5 430.9,606.2 431.3,605.5 431.8,606.4 432.2,605.8 432.7,605.6 433.1,605.9 433.5,606.0 433.6,605.5 434.0,605.4 434.5,604.3 434.9,604.5 435.0,603.8 435.4,604.3 435.8,605.0 436.3,605.8 436.5,606.5 436.7,605.9 437.2,606.5 437.6,606.7 438.1,607.0 438.5,606.7 439.0,607.5 439.4,608.1 439.9,607.8 440.0,608.0 440.3,608.0 440.8,608.2 441.2,607.9 441.7,608.0 442.1,608.5 442.5,608.3 442.6,608.1 443.0,605.7 443.5,603.6 443.9,602.8 444.0,601.7 444.4,603.5 444.8,605.1 445.3,607.8 445.5,609.0 445.7,609.4 446.2,609.5 446.6,609.3 447.1,610.8 447.5,610.8 448.0,610.9 448.0,611.0 448.4,611.4 448.9,611.3 449.3,611.5 449.8,612.1 450.2,611.5 450.7,612.6 451.1,612.7 451.6,613.0 452.0,613.0 452.0,613.3 452.5,613.7 452.9,613.8 453.4,613.9 453.8,613.7 454.3,614.2 454.7,614.1 455.2,614.1 455.6,614.8 456.0,614.8" fill="none" stroke="#50739f" stroke-width="1.35" stroke-linejoin="round" />
<rect x="35.3" y="361.8" width="420.7" height="281.49999999999994" fill="none" stroke="#111" stroke-width="1.5"/>
<line x1="455.9" y1="643.3" x2="455.9" y2="637.0999999999999" stroke="#111" stroke-width="1.2" />
<text transform="translate(450.5 675.3) scale(1.0 1.06)" font-size="24.2" fill="#111" stroke="#111" stroke-width="0.2" text-anchor="middle" >0</text>
<line x1="385.8" y1="643.3" x2="385.8" y2="637.0999999999999" stroke="#111" stroke-width="1.2" />
<text transform="translate(382.8 675.3) scale(1.0 1.06)" font-size="24.2" fill="#111" stroke="#111" stroke-width="0.2" text-anchor="middle" >200</text>
<line x1="315.7" y1="643.3" x2="315.7" y2="637.0999999999999" stroke="#111" stroke-width="1.2" />
<text transform="translate(313.5 675.3) scale(1.0 1.06)" font-size="24.2" fill="#111" stroke="#111" stroke-width="0.2" text-anchor="middle" >400</text>
<line x1="245.6" y1="643.3" x2="245.6" y2="637.0999999999999" stroke="#111" stroke-width="1.2" />
<text transform="translate(243.3 675.3) scale(1.0 1.06)" font-size="24.2" fill="#111" stroke="#111" stroke-width="0.2" text-anchor="middle" >600</text>
<line x1="175.5" y1="643.3" x2="175.5" y2="637.0999999999999" stroke="#111" stroke-width="1.2" />
<text transform="translate(173.3 675.3) scale(1.0 1.06)" font-size="24.2" fill="#111" stroke="#111" stroke-width="0.2" text-anchor="middle" >800</text>
<line x1="105.4" y1="643.3" x2="105.4" y2="637.0999999999999" stroke="#111" stroke-width="1.2" />
<text transform="translate(104.8 675.3) scale(1.0 1.06)" font-size="24.2" fill="#111" stroke="#111" stroke-width="0.2" text-anchor="middle" >1000</text>
<line x1="35.3" y1="643.3" x2="35.3" y2="637.0999999999999" stroke="#111" stroke-width="1.2" />
<text transform="translate(35.3 675.3) scale(1.0 1.06)" font-size="24.2" fill="#111" stroke="#111" stroke-width="0.2" text-anchor="middle" >1200</text>
<line x1="420.8" y1="643.3" x2="420.8" y2="639.6999999999999" stroke="#111" stroke-width="1.2" />
<line x1="350.8" y1="643.3" x2="350.8" y2="639.6999999999999" stroke="#111" stroke-width="1.2" />
<line x1="280.6" y1="643.3" x2="280.6" y2="639.6999999999999" stroke="#111" stroke-width="1.2" />
<line x1="210.5" y1="643.3" x2="210.5" y2="639.6999999999999" stroke="#111" stroke-width="1.2" />
<line x1="140.4" y1="643.3" x2="140.4" y2="639.6999999999999" stroke="#111" stroke-width="1.2" />
<line x1="70.4" y1="643.3" x2="70.4" y2="639.6999999999999" stroke="#111" stroke-width="1.2" />
<text transform="translate(239.6 709.3) scale(1.0 1.06)" font-size="24.6" fill="#111" stroke="#111" stroke-width="0.2" text-anchor="middle" >Binding energy / eV</text>
<text transform="translate(20.3 497.0) rotate(-90) scale(1.0 1.06)" font-size="24.4" fill="#111" stroke="#111" stroke-width="0.2" text-anchor="middle" >Intensity / (a.u.)</text>
<text transform="translate(47.5 397.0) scale(1.0 1.06)" font-size="24" fill="#111" stroke="#111" stroke-width="0.2" text-anchor="start" >(d)</text>
<text transform="translate(197.0 497.4) scale(1.0 1.06)" font-size="24" fill="#50739f" stroke="#50739f" stroke-width="0.2" text-anchor="start" >F1s</text>
<text transform="translate(248.5 427.0) scale(1.0 1.06)" font-size="24" fill="#50739f" stroke="#50739f" stroke-width="0.2" text-anchor="start" >O1s</text>
<text transform="translate(276.5 510.0) scale(1.0 1.06)" font-size="24" fill="#50739f" stroke="#50739f" stroke-width="0.2" text-anchor="start" >Ti2p</text>
<text transform="translate(336.5 392.5) scale(1.0 1.06)" font-size="24" fill="#50739f" stroke="#50739f" stroke-width="0.2" text-anchor="start" >C1s</text>
</g>
<g id="panel-e">
<polyline points="519.5,498.9 520.0,499.1 520.5,500.8 521.0,498.0 521.5,500.8 522.0,497.6 522.5,499.7 523.0,499.7 523.5,501.5 524.0,500.1 524.5,499.4 525.0,502.0 525.5,502.4 526.0,499.4 526.5,501.3 527.0,499.9 527.5,500.7 528.0,500.9 528.5,499.0 529.0,500.8 529.5,499.4 530.0,499.5 530.5,500.2 531.0,498.2 531.5,498.8 532.0,501.0 532.5,501.5 533.0,501.8 533.5,500.0 534.0,501.5 534.5,502.6 535.0,502.1 535.5,498.8 536.0,498.3 536.5,501.0 537.0,502.1 537.5,500.5 538.0,501.7 538.5,500.8 539.0,500.7 539.5,500.8 540.0,500.7 540.5,499.8 541.0,502.8 541.5,501.5 542.0,499.6 542.5,499.9 543.0,498.9 543.5,500.1 544.0,496.8 544.5,497.4 545.0,498.0 545.5,496.8 546.0,496.0 546.5,492.8 547.0,495.4 547.5,494.9 548.0,497.5 548.5,496.1 549.0,498.9 549.5,497.4 550.0,498.1 550.5,496.8 551.0,496.1 551.5,495.5 552.0,496.6 552.5,494.1 553.0,493.8 553.5,494.6 554.0,492.9 554.5,491.0 555.0,490.9 555.5,489.8 556.0,490.8 556.5,494.4 557.0,498.6 557.5,498.6 558.0,500.3 558.5,498.8 559.0,498.4 559.5,501.5 560.0,499.9 560.5,499.4 561.0,502.8 561.5,503.5 562.0,503.4 562.5,504.3 563.0,503.7 563.5,503.4 564.0,502.2 564.5,503.2 565.0,502.4 565.5,503.4 566.0,505.7 566.5,504.4 567.0,504.7 567.5,503.9 568.0,507.3 568.5,503.2 569.0,504.4 569.5,506.4 570.0,505.0 570.5,505.2 571.0,506.7 571.5,507.2 572.0,507.4 572.5,506.2 573.0,508.1 573.5,506.5 574.0,507.0 574.5,507.3 575.0,508.8 575.5,508.4 576.0,508.1 576.5,509.3 577.0,508.6 577.5,509.4 578.0,509.8 578.5,509.9 579.0,509.7 579.5,509.8 580.0,512.3 580.5,509.5 581.0,512.0 581.5,511.0 582.0,511.3 582.5,510.4 583.0,512.2 583.5,511.8 584.0,513.5 584.5,512.1 585.0,511.7 585.5,511.7 586.0,513.9 586.5,513.5 587.0,512.7 587.5,514.6 588.0,513.3 588.5,512.7 589.0,513.5 589.5,512.0 590.0,513.1 590.5,511.9 591.0,513.5 591.5,513.6 592.0,512.9 592.5,514.0 593.0,512.3 593.5,513.4 594.0,512.6 594.5,511.4 595.0,512.9 595.5,513.6 596.0,514.7 596.5,511.7 597.0,511.8 597.5,512.7 598.0,509.9 598.5,512.1 599.0,508.9 599.5,509.1 600.0,509.8 600.5,509.4 601.0,510.5 601.5,508.3 602.0,509.0 602.5,508.5 603.0,508.8 603.5,509.0 604.0,509.1 604.5,508.3 605.0,508.1 605.5,507.6 606.0,505.8 606.5,505.4 607.0,507.3 607.5,505.5 608.0,505.9 608.5,506.8 609.0,506.1 609.5,505.5 610.0,505.2 610.5,506.0 611.0,507.2 611.5,504.0 612.0,505.3 612.5,506.4 613.0,505.6 613.5,504.8 614.0,505.3 614.5,505.6 615.0,506.1 615.5,503.6 616.0,504.3 616.5,505.3 617.0,505.4 617.5,505.1 618.0,505.2 618.5,505.6 619.0,505.3 619.5,507.4 620.0,504.4 620.5,504.8 621.0,503.9 621.5,505.9 622.0,505.7 622.5,505.4 623.0,504.5 623.5,507.6 624.0,506.2 624.5,506.7 625.0,504.7 625.5,506.3 626.0,506.4 626.5,507.5 627.0,506.4 627.5,506.9 628.0,504.3 628.5,505.6 629.0,505.8 629.5,505.6 630.0,505.4 630.5,505.3 631.0,506.8 631.5,505.1 632.0,506.1 632.5,505.9 633.0,504.8 633.5,505.2 634.0,502.7 634.5,504.3 635.0,505.8 635.5,504.0 636.0,502.6 636.5,505.3 637.0,503.1 637.5,505.5 638.0,504.2 638.5,502.9 639.0,503.4 639.5,505.5 640.0,504.2 640.5,503.9 641.0,504.0 641.5,503.7 642.0,503.2 642.5,504.3 643.0,505.1 643.5,503.7 644.0,505.2 644.5,505.0 645.0,502.7 645.5,505.0 646.0,505.7 646.5,502.7 647.0,504.3 647.5,505.5 648.0,504.4 648.5,505.4 649.0,505.3 649.5,504.9 650.0,505.8 650.5,505.8 651.0,506.5 651.5,506.8 652.0,506.5 652.5,506.7 653.0,507.2 653.5,508.5 654.0,507.4 654.5,509.9 655.0,508.1 655.5,511.1 656.0,509.4 656.5,509.4 657.0,509.5 657.5,510.7 658.0,510.6 658.5,509.7 659.0,511.0 659.5,511.4 660.0,511.4 660.5,512.6 661.0,509.2 661.5,511.5 662.0,511.3 662.5,512.5 663.0,514.1 663.5,511.1 664.0,511.8 664.5,512.5 665.0,513.8 665.5,514.1 666.0,512.5 666.5,514.2 667.0,513.5 667.5,514.7 668.0,514.0 668.5,514.6 669.0,514.2 669.5,513.6 670.0,513.7 670.5,515.2 671.0,514.3 671.5,514.2 672.0,515.1 672.5,516.0 673.0,516.4 673.5,515.3 674.0,516.0 674.5,516.8 675.0,515.9 675.5,517.5 676.0,516.8 676.5,515.8 677.0,517.5 677.5,516.7 678.0,518.6 678.5,517.0 679.0,518.7 679.5,519.5 680.0,518.0 680.5,517.8 681.0,516.7 681.5,516.8 682.0,517.1 682.5,517.9 683.0,516.9 683.5,514.6 684.0,516.3 684.5,513.9 685.0,515.8 685.5,514.7 686.0,513.5 686.5,511.4 687.0,512.6 687.5,511.3 688.0,511.1 688.5,511.6 689.0,510.1 689.5,511.6 690.0,511.8 690.5,512.2 691.0,510.7 691.5,510.7 692.0,512.6 692.5,512.6 693.0,510.0 693.5,512.2 694.0,512.7 694.5,511.2 695.0,513.0 695.5,511.9 696.0,511.9 696.5,511.2 697.0,513.8 697.5,511.7 698.0,509.8 698.5,511.7 699.0,512.5 699.5,512.2 700.0,515.0 700.5,512.9 701.0,513.5 701.5,514.2 702.0,515.0 702.5,513.2 703.0,513.0 703.5,514.0 704.0,515.6 704.5,515.0 705.0,516.0 705.5,514.9 706.0,516.8 706.5,516.3 707.0,516.2 707.5,516.7 708.0,516.7 708.5,516.7 709.0,515.1 709.5,516.9 710.0,516.6 710.5,517.3 711.0,517.2 711.5,516.8 712.0,517.8 712.5,519.0 713.0,518.3 713.5,518.0 714.0,518.3 714.5,519.3 715.0,517.9 715.5,518.7 716.0,519.2 716.5,519.0 717.0,521.9 717.5,522.9 718.0,523.2 718.5,524.9 719.0,527.1 719.5,528.8 720.0,527.7 720.5,530.2 721.0,528.2 721.5,523.7 722.0,523.9 722.5,523.9 723.0,522.6 723.5,523.2 724.0,522.0 724.5,521.6 725.0,520.6 725.5,518.8 726.0,520.5 726.5,518.8 727.0,520.3 727.5,519.3 728.0,521.4 728.5,518.6 729.0,516.2 729.5,519.6 730.0,517.5 730.5,518.0 731.0,518.1 731.5,515.7 732.0,515.5 732.5,517.0 733.0,515.5 733.5,515.0 734.0,516.3 734.5,517.0 735.0,518.1 735.5,517.3 736.0,517.4 736.5,518.7 737.0,518.6 737.5,519.5 738.0,517.8 738.5,521.2 739.0,518.4 739.5,520.8 740.0,520.9 740.5,519.5 741.0,520.4 741.5,520.2 742.0,521.6 742.5,522.1 743.0,521.1 743.5,521.2 744.0,520.2 744.5,521.4 745.0,521.2 745.5,520.2 746.0,519.4 746.5,521.2 747.0,519.2 747.5,519.4 748.0,519.0 748.5,519.9 749.0,519.4 749.5,518.1 750.0,518.7 750.5,518.4 751.0,519.7 751.5,520.9 752.0,520.2 752.5,520.1 753.0,519.8 753.5,517.8 754.0,517.8 754.5,516.9 755.0,518.9 755.5,518.0 756.0,516.8 756.5,518.1 757.0,517.8 757.5,519.1 758.0,518.2 758.5,518.2 759.0,519.0 759.5,519.2 760.0,520.4 760.5,519.3 761.0,519.3 761.5,519.9 762.0,518.6 762.5,519.3 763.0,520.5 763.5,519.0 764.0,520.9 764.5,519.4 765.0,519.8 765.5,520.6 766.0,520.4 766.5,519.2 767.0,519.0 767.5,520.8 768.0,519.8 768.5,520.5 769.0,521.5 769.5,520.8 770.0,520.6 770.5,520.2 771.0,521.6 771.5,523.9 772.0,521.0 772.5,520.7 773.0,521.9 773.5,523.6 774.0,522.4 774.5,522.8 775.0,523.0 775.5,523.5 776.0,522.6 776.5,522.5 777.0,523.9 777.5,525.9 778.0,522.7 778.5,524.3 779.0,524.5 779.5,524.5 780.0,525.3 780.5,524.7 781.0,526.4 781.5,525.0 782.0,524.7 782.5,526.0 783.0,527.0 783.5,529.4 784.0,526.8 784.5,528.8 785.0,525.9 785.5,528.5 786.0,529.2 786.5,528.0 787.0,529.2 787.5,528.3 788.0,528.4 788.5,528.9 789.0,529.9 789.5,527.7 790.0,531.0 790.5,529.7 791.0,529.6 791.5,531.5 792.0,530.8 792.5,533.3 793.0,530.0 793.5,531.2 794.0,531.2 794.5,533.3 795.0,531.6 795.5,531.3 796.0,530.6 796.5,531.8 797.0,533.7 797.5,533.2 798.0,535.4 798.5,533.7 799.0,536.0 799.5,535.6 800.0,537.9 800.5,539.8 801.0,542.3 801.5,543.8 802.0,546.3 802.5,544.5 803.0,543.6 803.5,542.6 804.0,542.1 804.5,542.6 805.0,542.0 805.5,541.0 806.0,540.1 806.5,540.6 807.0,540.1 807.5,538.9 808.0,539.6 808.5,539.9 809.0,539.3 809.5,539.4 810.0,540.0 810.5,540.0 811.0,538.2 811.5,539.4 812.0,539.1 812.5,539.2 813.0,538.6 813.5,538.9 814.0,537.5 814.5,538.3 815.0,538.8 815.5,537.6 816.0,538.0 816.5,537.8 817.0,538.2 817.5,538.7 818.0,537.7 818.5,539.0 819.0,537.5 819.5,538.2 820.0,538.0 820.5,537.0 821.0,537.1 821.5,537.5 822.0,536.8 822.5,536.6 823.0,537.1 823.5,536.4 824.0,537.1 824.5,536.8 825.0,537.3 825.5,537.5 826.0,535.9 826.5,536.6 827.0,537.2 827.5,538.2 828.0,536.7 828.5,536.8 829.0,536.3 829.5,537.9 830.0,536.3 830.5,536.8 831.0,536.9 831.5,535.7 832.0,535.6 832.5,535.6 833.0,536.3 833.5,536.6 834.0,535.7 834.5,537.2 835.0,535.7 835.5,536.2 836.0,535.8 836.5,535.3 837.0,535.6 837.5,535.7 838.0,535.0 838.5,535.6 839.0,535.1 839.5,536.1 840.0,534.9 840.5,534.8 841.0,534.9 841.5,535.5 842.0,536.0 842.5,534.6 843.0,535.5 843.5,535.5 844.0,534.9 844.5,535.4 845.0,535.3 845.5,534.6 846.0,533.7 846.5,534.8 847.0,534.4 847.5,534.6 848.0,534.7 848.5,535.4 849.0,534.0 849.5,534.7 850.0,534.2 850.5,533.6 851.0,533.3 851.5,533.0 852.0,532.5 852.5,533.7 853.0,533.7 853.5,532.8 854.0,533.6 854.5,533.0 855.0,532.8 855.5,532.2 856.0,532.1 856.5,532.8 857.0,532.5 857.5,532.0 858.0,532.4 858.5,532.1 859.0,531.0 859.5,532.4 860.0,531.4 860.5,532.5 861.0,530.8 861.5,529.6 862.0,530.7 862.5,530.8 863.0,529.3 863.5,529.1 864.0,529.7 864.5,528.4 865.0,527.6 865.5,526.3 866.0,525.6 866.5,524.6 867.0,524.1 867.5,523.9 868.0,523.8 868.5,524.1 869.0,523.5 869.5,522.4 870.0,521.9 870.5,521.6 871.0,521.1 871.5,521.9 872.0,520.6 872.5,520.6 873.0,519.9 873.5,519.8 874.0,520.8 874.5,521.1 875.0,521.1 875.5,521.2 876.0,520.2 876.5,521.8 877.0,521.1 877.5,520.8 878.0,521.2 878.5,520.9 879.0,521.2 879.5,522.0 880.0,521.8 880.5,522.3 881.0,522.5 881.5,521.8 882.0,523.6 882.5,524.3 883.0,523.1 883.5,524.0 884.0,524.5 884.5,524.2 885.0,524.6 885.5,524.4 886.0,524.7 886.5,525.4 887.0,526.2 887.5,525.8 888.0,526.6 888.5,526.4 889.0,526.5 889.5,527.2 890.0,527.3 890.5,527.9 891.0,528.4 891.5,528.1 892.0,528.3 892.5,528.8 893.0,528.3 893.5,528.7 894.0,529.5 894.5,528.7 895.0,528.6 895.5,529.3 896.0,530.4 896.5,530.4 897.0,530.5 897.5,530.7 898.0,530.5 898.5,531.2 899.0,531.1 899.5,532.2 900.0,532.0 900.5,532.6 901.0,532.7 901.5,532.7 902.0,532.7 902.5,532.9 903.0,533.8 903.5,534.1 904.0,533.5 904.5,534.1 905.0,534.7 905.5,534.9 906.0,535.8 906.5,535.8 907.0,536.8 907.5,536.1 908.0,537.2 908.5,537.1 909.0,537.3 909.5,537.0 910.0,539.2 910.5,540.2 911.0,541.2 911.5,542.6 912.0,543.2 912.5,543.8 913.0,544.5 913.5,545.9 914.0,547.5 914.5,547.6 915.0,549.0 915.5,551.0 916.0,552.6 916.5,553.7 917.0,555.1 917.5,556.5 918.0,557.8 918.5,559.4 919.0,561.1 919.5,562.6 920.0,564.3 920.5,566.0 921.0,567.3 921.5,568.2 922.0,568.7 922.5,568.1 923.0,567.8 923.5,567.0 924.0,565.9 924.5,564.8 925.0,563.7 925.5,562.0 926.0,561.0 926.5,559.7 927.0,558.9 927.5,557.3 928.0,555.9 928.5,554.7 929.0,553.4 929.5,552.0 930.0,550.5 930.5,549.5 931.0,548.2 931.5,545.4 932.0,542.5 932.5,536.2 933.0,523.4 933.5,502.8 934.0,482.9 934.5,466.0 935.0,455.4 935.5,449.9 936.0,447.6 936.5,446.1 937.0,444.8 937.5,443.7 938.0,442.8 938.5,442.0 939.0,441.1 939.5,441.4 940.0,440.8" fill="none" stroke="#50739f" stroke-width="1.35" stroke-linejoin="round" />
<rect x="519.5" y="363.8" width="420.79999999999995" height="280.7" fill="none" stroke="#111" stroke-width="1.5"/>
<line x1="880.1" y1="644.5" x2="880.1" y2="638.3" stroke="#111" stroke-width="1.2" />
<text transform="translate(878.6 675.3) scale(1.0 1.06)" font-size="24.2" fill="#111" stroke="#111" stroke-width="0.2" text-anchor="middle" >1000</text>
<line x1="759.9" y1="644.5" x2="759.9" y2="638.3" stroke="#111" stroke-width="1.2" />
<text transform="translate(758.4 675.3) scale(1.0 1.06)" font-size="24.2" fill="#111" stroke="#111" stroke-width="0.2" text-anchor="middle" >2000</text>
<line x1="639.7" y1="644.5" x2="639.7" y2="638.3" stroke="#111" stroke-width="1.2" />
<text transform="translate(638.2 675.3) scale(1.0 1.06)" font-size="24.2" fill="#111" stroke="#111" stroke-width="0.2" text-anchor="middle" >3000</text>
<line x1="519.5" y1="644.5" x2="519.5" y2="638.3" stroke="#111" stroke-width="1.2" />
<text transform="translate(518.0 675.3) scale(1.0 1.06)" font-size="24.2" fill="#111" stroke="#111" stroke-width="0.2" text-anchor="middle" >4000</text>
<line x1="820.0" y1="644.5" x2="820.0" y2="640.9" stroke="#111" stroke-width="1.2" />
<line x1="699.8" y1="644.5" x2="699.8" y2="640.9" stroke="#111" stroke-width="1.2" />
<line x1="579.6" y1="644.5" x2="579.6" y2="640.9" stroke="#111" stroke-width="1.2" />
<text transform="translate(708.5 709.3) scale(1.0 1.06)" font-size="24.6" fill="#111" stroke="#111" stroke-width="0.2" text-anchor="middle" >Wavenumber / cm<tspan font-size="15.5" dy="-9.5">−1</tspan></text>
<text transform="translate(502.2 503.5) rotate(-90) scale(1.0 1.06)" font-size="24.6" fill="#111" stroke="#111" stroke-width="0.2" text-anchor="middle" >Transmittance / (a.u.)</text>
<text transform="translate(536.5 397.0) scale(1.0 1.06)" font-size="24" fill="#111" stroke="#111" stroke-width="0.2" text-anchor="start" >(e)</text>
<line x1="586" y1="477.5" x2="586" y2="537" stroke="#111" stroke-width="1.3" stroke-dasharray="6 3.2"/>
<line x1="801.8" y1="508" x2="801.8" y2="563" stroke="#111" stroke-width="1.3" stroke-dasharray="6 3.2"/>
<line x1="920.7" y1="529" x2="920.7" y2="585.5" stroke="#111" stroke-width="1.3" stroke-dasharray="6 3.2"/>
<text transform="translate(588.8 472.9) scale(1.0 1.06)" font-size="24" fill="#111" stroke="#111" stroke-width="0.2" text-anchor="middle" >−OH</text>
<text transform="translate(811.3 501.8) scale(1.0 1.06)" font-size="24" fill="#111" stroke="#111" stroke-width="0.2" text-anchor="middle" >−COOH</text>
<text transform="translate(906.7 516.2) scale(1.0 1.06)" font-size="24" fill="#111" stroke="#111" stroke-width="0.2" text-anchor="middle" >Ti−F</text>
<text transform="translate(590.2 556.4) scale(1.0 1.06)" font-size="24" fill="#111" stroke="#111" stroke-width="0.2" text-anchor="middle" >3437</text>
<text transform="translate(806.1 581.6) scale(1.0 1.06)" font-size="24" fill="#111" stroke="#111" stroke-width="0.2" text-anchor="middle" >1636</text>
<text transform="translate(924.6 604.3) scale(1.0 1.06)" font-size="24" fill="#111" stroke="#111" stroke-width="0.2" text-anchor="middle" >659</text>
</g>
<g id="panel-f">
<rect x="1099.8" y="577.6" width="9.0" height="66.2" fill="#b5d8ef"/>
<rect x="1112.9" y="420.7" width="8.3" height="223.1" fill="#b5d8ef"/>
<rect x="1126.7" y="385.6" width="9.1" height="258.2" fill="#b5d8ef"/>
<rect x="1143.8" y="526.6" width="9.1" height="117.2" fill="#b5d8ef"/>
<polyline points="1050.0,643.8 1051.0,643.8 1052.0,643.8 1053.0,643.8 1054.0,643.8 1055.0,643.8 1056.0,643.8 1057.0,643.8 1058.0,643.8 1059.0,643.8 1060.0,643.8 1061.0,643.8 1062.0,643.8 1063.0,643.8 1064.0,643.8 1065.0,643.8 1066.0,643.7 1067.0,643.7 1068.0,643.7 1069.0,643.7 1070.0,643.6 1071.0,643.6 1072.0,643.5 1073.0,643.5 1074.0,643.4 1075.0,643.2 1076.0,643.1 1077.0,642.9 1078.0,642.7 1079.0,642.4 1080.0,642.1 1081.0,641.7 1082.0,641.2 1083.0,640.7 1084.0,640.0 1085.0,639.2 1086.0,638.2 1087.0,637.1 1088.0,635.8 1089.0,634.3 1090.0,632.5 1091.0,630.5 1092.0,628.1 1093.0,625.5 1094.0,622.5 1095.0,619.1 1096.0,615.2 1097.0,611.0 1098.0,606.2 1099.0,601.0 1100.0,595.3 1101.0,589.0 1102.0,582.2 1103.0,574.9 1104.0,567.0 1105.0,558.6 1106.0,549.6 1107.0,540.2 1108.0,530.4 1109.0,520.2 1110.0,509.6 1111.0,498.8 1112.0,487.7 1113.0,476.6 1114.0,465.5 1115.0,454.4 1116.0,443.6 1117.0,433.0 1118.0,422.9 1119.0,413.3 1120.0,404.3 1121.0,396.1 1122.0,388.7 1123.0,382.3 1124.0,376.8 1125.0,372.5 1126.0,369.2 1127.0,367.2 1128.0,366.3 1129.0,366.7 1130.0,368.3 1131.0,371.0 1132.0,374.9 1133.0,380.0 1134.0,386.0 1135.0,393.1 1136.0,401.0 1137.0,409.6 1138.0,419.0 1139.0,428.9 1140.0,439.3 1141.0,450.1 1142.0,461.0 1143.0,472.1 1144.0,483.3 1145.0,494.4 1146.0,505.3 1147.0,516.0 1148.0,526.3 1149.0,536.3 1150.0,545.9 1151.0,555.0 1152.0,563.7 1153.0,571.8 1154.0,579.3 1155.0,586.4 1156.0,592.8 1157.0,598.8 1158.0,604.2 1159.0,609.1 1160.0,613.6 1161.0,617.6 1162.0,621.1 1163.0,624.3 1164.0,627.1 1165.0,629.6 1166.0,631.7 1167.0,633.6 1168.0,635.2 1169.0,636.6 1170.0,637.8 1171.0,638.8 1172.0,639.7 1173.0,640.4 1174.0,641.0 1175.0,641.5 1176.0,641.9 1177.0,642.3 1178.0,642.6 1179.0,642.8 1180.0,643.0 1181.0,643.2 1182.0,643.3 1183.0,643.4 1184.0,643.5 1185.0,643.6 1186.0,643.6 1187.0,643.7 1188.0,643.7 1189.0,643.7 1190.0,643.7 1191.0,643.8 1192.0,643.8 1193.0,643.8 1194.0,643.8 1195.0,643.8 1196.0,643.8 1197.0,643.8 1198.0,643.8 1199.0,643.8 1200.0,643.8 1201.0,643.8 1202.0,643.8 1203.0,643.8 1204.0,643.8 1205.0,643.8 1206.0,643.8 1207.0,643.8 1208.0,643.8 1209.0,643.8" fill="none" stroke="#111" stroke-width="1.4" stroke-linejoin="round" />
<line x1="1024.2" y1="362" x2="1445.4" y2="362" stroke="#111" stroke-width="1.3" />
<line x1="1445.4" y1="362" x2="1445.4" y2="643.8" stroke="#111" stroke-width="0.8" />
<line x1="1445.4" y1="362" x2="1445.4" y2="643.8" stroke="#111" stroke-width="1.6" stroke-dasharray="7 2.5"/>
<line x1="1024.2" y1="361.4" x2="1024.2" y2="644.5999999999999" stroke="#111" stroke-width="1.6" />
<line x1="1024.2" y1="643.8" x2="1445.4" y2="643.8" stroke="#111" stroke-width="1.8" />
<line x1="1024.2" y1="643.8" x2="1030.6000000000001" y2="643.8" stroke="#111" stroke-width="1.2" />
<text transform="translate(1016.2 651.6) scale(1.0 1.06)" font-size="24" fill="#111" stroke="#111" stroke-width="0.2" text-anchor="end" >0</text>
<line x1="1024.2" y1="610.7" x2="1030.6000000000001" y2="610.7" stroke="#111" stroke-width="1.2" />
<text transform="translate(1016.2 618.5) scale(1.0 1.06)" font-size="24" fill="#111" stroke="#111" stroke-width="0.2" text-anchor="end" >5</text>
<line x1="1024.2" y1="577.6" x2="1030.6000000000001" y2="577.6" stroke="#111" stroke-width="1.2" />
<text transform="translate(1016.2 585.4) scale(1.0 1.06)" font-size="24" fill="#111" stroke="#111" stroke-width="0.2" text-anchor="end" >10</text>
<line x1="1024.2" y1="544.5" x2="1030.6000000000001" y2="544.5" stroke="#111" stroke-width="1.2" />
<text transform="translate(1016.2 552.3) scale(1.0 1.06)" font-size="24" fill="#111" stroke="#111" stroke-width="0.2" text-anchor="end" >15</text>
<line x1="1024.2" y1="511.4" x2="1030.6000000000001" y2="511.4" stroke="#111" stroke-width="1.2" />
<text transform="translate(1016.2 519.2) scale(1.0 1.06)" font-size="24" fill="#111" stroke="#111" stroke-width="0.2" text-anchor="end" >20</text>
<line x1="1024.2" y1="478.3" x2="1030.6000000000001" y2="478.3" stroke="#111" stroke-width="1.2" />
<text transform="translate(1016.2 486.1) scale(1.0 1.06)" font-size="24" fill="#111" stroke="#111" stroke-width="0.2" text-anchor="end" >25</text>
<line x1="1024.2" y1="445.2" x2="1030.6000000000001" y2="445.2" stroke="#111" stroke-width="1.2" />
<text transform="translate(1016.2 453.0) scale(1.0 1.06)" font-size="24" fill="#111" stroke="#111" stroke-width="0.2" text-anchor="end" >30</text>
<line x1="1024.2" y1="412.1" x2="1030.6000000000001" y2="412.1" stroke="#111" stroke-width="1.2" />
<text transform="translate(1016.2 419.9) scale(1.0 1.06)" font-size="24" fill="#111" stroke="#111" stroke-width="0.2" text-anchor="end" >35</text>
<line x1="1024.2" y1="379.0" x2="1030.6000000000001" y2="379.0" stroke="#111" stroke-width="1.2" />
<text transform="translate(1016.2 386.8) scale(1.0 1.06)" font-size="24" fill="#111" stroke="#111" stroke-width="0.2" text-anchor="end" >40</text>
<line x1="1024.2" y1="627.2" x2="1027.8" y2="627.2" stroke="#111" stroke-width="1.2" />
<line x1="1024.2" y1="594.1" x2="1027.8" y2="594.1" stroke="#111" stroke-width="1.2" />
<line x1="1024.2" y1="561.0" x2="1027.8" y2="561.0" stroke="#111" stroke-width="1.2" />
<line x1="1024.2" y1="527.9" x2="1027.8" y2="527.9" stroke="#111" stroke-width="1.2" />
<line x1="1024.2" y1="494.8" x2="1027.8" y2="494.8" stroke="#111" stroke-width="1.2" />
<line x1="1024.2" y1="461.7" x2="1027.8" y2="461.7" stroke="#111" stroke-width="1.2" />
<line x1="1024.2" y1="428.6" x2="1027.8" y2="428.6" stroke="#111" stroke-width="1.2" />
<line x1="1024.2" y1="395.5" x2="1027.8" y2="395.5" stroke="#111" stroke-width="1.2" />
<text transform="translate(1024.2 675.3) scale(1.0 1.06)" font-size="24.2" fill="#111" stroke="#111" stroke-width="0.2" text-anchor="middle" >0</text>
<line x1="1108.4" y1="643.8" x2="1108.4" y2="637.5999999999999" stroke="#111" stroke-width="1.2" />
<text transform="translate(1108.4 675.3) scale(1.0 1.06)" font-size="24.2" fill="#111" stroke="#111" stroke-width="0.2" text-anchor="middle" >200</text>
<line x1="1192.7" y1="643.8" x2="1192.7" y2="637.5999999999999" stroke="#111" stroke-width="1.2" />
<text transform="translate(1192.7 675.3) scale(1.0 1.06)" font-size="24.2" fill="#111" stroke="#111" stroke-width="0.2" text-anchor="middle" >400</text>
<line x1="1276.9" y1="643.8" x2="1276.9" y2="637.5999999999999" stroke="#111" stroke-width="1.2" />
<text transform="translate(1274.4 675.3) scale(1.0 1.06)" font-size="24.2" fill="#111" stroke="#111" stroke-width="0.2" text-anchor="middle" >600</text>
<line x1="1361.2" y1="643.8" x2="1361.2" y2="637.5999999999999" stroke="#111" stroke-width="1.2" />
<text transform="translate(1358.7 675.3) scale(1.0 1.06)" font-size="24.2" fill="#111" stroke="#111" stroke-width="0.2" text-anchor="middle" >800</text>
<line x1="1445.4" y1="643.8" x2="1445.4" y2="637.5999999999999" stroke="#111" stroke-width="1.2" />
<text transform="translate(1444.9 675.3) scale(1.0 1.06)" font-size="24.2" fill="#111" stroke="#111" stroke-width="0.2" text-anchor="middle" >1000</text>
<line x1="1066.3" y1="643.8" x2="1066.3" y2="640.1999999999999" stroke="#111" stroke-width="1.2" />
<line x1="1150.6" y1="643.8" x2="1150.6" y2="640.1999999999999" stroke="#111" stroke-width="1.2" />
<line x1="1234.8" y1="643.8" x2="1234.8" y2="640.1999999999999" stroke="#111" stroke-width="1.2" />
<line x1="1319.0" y1="643.8" x2="1319.0" y2="640.1999999999999" stroke="#111" stroke-width="1.2" />
<line x1="1403.3" y1="643.8" x2="1403.3" y2="640.1999999999999" stroke="#111" stroke-width="1.2" />
<text transform="translate(1241.0 709.3) scale(1.0 1.06)" font-size="24.6" fill="#111" stroke="#111" stroke-width="0.2" text-anchor="middle" >Particle size / nm</text>
<text transform="translate(973.4 490.0) rotate(-90) scale(1.0 1.06)" font-size="24.6" fill="#111" stroke="#111" stroke-width="0.2" text-anchor="middle" >Percentage / %</text>
<text transform="translate(1046.5 394.0) scale(1.0 1.06)" font-size="24" fill="#111" stroke="#111" stroke-width="0.2" text-anchor="start" >(f)</text>
<text transform="translate(1144.5 391.5) scale(1.0 1.06)" font-size="24.4" fill="#111" stroke="#111" stroke-width="0.2" text-anchor="start" >~245.06 nm</text>
</g>
<defs>
<clipPath id="clipb"><rect x="517" y="0" width="421" height="315.3"/></clipPath>
<filter id="blb" x="-5%" y="-5%" width="110%" height="110%" color-interpolation-filters="sRGB"><feTurbulence type="fractalNoise" baseFrequency="0.06" numOctaves="3" seed="2" result="tn"/><feDisplacementMap in="SourceGraphic" in2="tn" scale="9" xChannelSelector="R" yChannelSelector="G"/><feGaussianBlur stdDeviation="0.8"/><feComponentTransfer><feFuncR type="table" tableValues="0.08 0.26 0.50 0.76 1"/><feFuncG type="table" tableValues="0.074 0.245 0.475 0.745 1"/><feFuncB type="table" tableValues="0.07 0.235 0.46 0.735 1"/></feComponentTransfer></filter>
<filter id="blb2" x="-5%" y="-5%" width="110%" height="110%" color-interpolation-filters="sRGB"><feGaussianBlur stdDeviation="0.65"/><feColorMatrix type="matrix" values="1 0 0 0 0  0 0.96 0 0 0  0 0 0.945 0 0  0 0 0 1 0"/></filter>
<filter id="texb" x="0" y="0" width="100%" height="100%"><feTurbulence type="fractalNoise" baseFrequency="0.09" numOctaves="3" seed="4" result="n"/><feColorMatrix type="matrix" values="0 0 0 0 1  0 0 0 0 1  0 0 0 0 1  1.6 0 0 0 -0.72"/></filter>
<filter id="texb2" x="0" y="0" width="100%" height="100%"><feTurbulence type="fractalNoise" baseFrequency="0.07" numOctaves="3" seed="9" result="n"/><feColorMatrix type="matrix" values="0 0 0 0 0  0 0 0 0 0  0 0 0 0 0  1.5 0 0 0 -0.68"/></filter>
</defs>
<g id="panel-b" clip-path="url(#clipb)">
<rect x="517" y="0" width="421" height="316" fill="#645b57"/>
<g filter="url(#blb)">
<polygon points="512.0,-5.0 945.0,-5.0 945.0,320.0 512.0,320.0" fill="#777777" />
<polygon points="815.0,-5.0 941.0,-5.0 941.0,232.0 798.0,232.0 798.0,196.0 815.0,150.0" fill="#3a3a3a" />
<polygon points="517.0,0.0 632.0,0.0 626.2,11.5 611.9,17.2 591.7,20.1 574.5,31.6 560.1,24.4 545.7,31.0 531.4,35.9 517.0,47.4" fill="#8c8c8c" />
<polygon points="517.0,50.3 534.2,37.4 557.2,32.2 573.1,48.9 573.1,60.4 588.9,83.4 600.4,94.9 597.5,109.2 583.1,120.7 560.1,129.3 534.2,149.5 517.0,152.3" fill="#828282" />
<polygon points="624.8,24.4 629.1,8.6 643.5,0.0 686.6,0.0 690.9,14.4 692.3,34.5 689.5,48.9 678.0,57.5 660.7,66.1 643.5,70.4 634.8,71.9 629.1,63.2 624.8,48.9 627.7,37.4" fill="#808080" />
<polygon points="718.2,94.9 721.7,71.9 724.0,51.2 752.7,42.5 777.1,38.8 815.9,43.1 818.8,71.9 817.4,94.9 815.9,120.7 804.4,129.3 792.9,135.1 775.7,143.7 747.0,149.5 724.0,149.5 718.8,115.0" fill="#737373" stroke="#c8c8c8" stroke-width="1.5" stroke-linejoin="round" />
<polygon points="777.1,38.8 782.9,31.0 815.9,33.1 818.8,43.1 815.9,57.5 792.9,48.9" fill="#929292" />
<polygon points="573.1,48.9 577.4,37.4 586.0,28.7 591.7,20.1 606.1,14.4 614.7,20.1 624.8,24.4 627.7,37.4 624.8,48.9 629.1,63.2 634.8,71.9 637.7,74.7 632.0,80.5 620.5,87.7 609.0,92.6 600.4,90.5 588.9,83.4 578.8,71.9 573.1,60.4" fill="#363636" stroke="#dadada" stroke-width="1.8" stroke-linejoin="round" />
<polygon points="686.6,0.0 701.0,0.0 706.7,4.3 724.0,6.3 735.5,3.4 744.1,0.0 784.3,0.0 782.9,5.7 775.7,8.6 768.5,17.2 772.8,21.6 784.3,23.0 804.4,24.4 817.4,28.7 815.9,33.1 782.9,31.0 777.1,38.8 752.7,42.5 724.0,51.2 721.7,71.9 718.2,94.9 718.8,115.0 721.7,143.7 724.0,149.5 718.2,150.9 715.3,123.6 712.5,94.9 708.1,80.5 702.4,70.4 696.6,58.9 689.5,50.3 692.3,34.5 690.9,14.4" fill="#3a3a3a" stroke="#dadada" stroke-width="1.7" stroke-linejoin="round" />
<polygon points="784.3,0.0 827.4,0.0 821.7,14.4 817.4,28.7 804.4,24.4 784.3,23.0 772.8,21.6 768.5,17.2 775.7,8.6 782.9,5.7" fill="#5a5a5a" />
<polygon points="554.4,27.3 560.1,24.4 567.3,21.6 568.7,24.4 563.0,28.7 557.2,32.2 545.7,34.5 534.2,37.4 528.5,43.1 522.7,48.9 517.0,51.2 517.0,47.4 525.6,43.1 531.4,35.9 537.1,33.1 545.7,31.0" fill="#2c2c2c" />
<polygon points="598.9,126.5 603.2,123.6 614.7,126.5 623.4,135.1 627.7,149.5 630.5,158.1 633.4,166.7 629.1,166.7 621.9,146.6 616.2,138.0 606.1,132.2" fill="#343434" />
<polygon points="728.0,149.5 742.7,146.1 757.4,140.2 770.0,137.0 783.8,134.4 800.0,128.0 815.0,125.0 815.0,150.0 800.0,196.0 789.7,193.1 783.8,193.1 772.1,182.8 757.4,174.0 742.7,166.7 728.0,156.4 722.0,152.0" fill="#3a3a3a" stroke="#dadada" stroke-width="1.5" stroke-linejoin="round" />
<polygon points="753.0,147.6 772.1,147.6 786.7,160.8 788.2,178.4 772.1,177.0 757.4,171.1 753.0,160.8" fill="#565656" />
<polygon points="517.0,169.5 525.6,172.4 525.6,186.7 524.2,215.5 525.6,232.7 534.2,247.1 545.7,261.5 557.2,275.8 568.7,287.3 588.9,285.9 617.6,280.2 646.3,276.4 678.0,274.4 689.5,268.7 703.8,268.7 718.2,273.0 729.7,281.6 738.3,290.2 747.0,288.8 761.3,284.5 781.4,278.7 792.9,267.2 804.4,252.9 813.1,241.4 818.8,229.9 815.9,215.5 804.4,209.7 800.1,201.1 804.4,192.5 804.4,229.9 941.0,229.9 941.0,319.0 515.6,319.0 515.6,169.5" fill="#3a3a3a" />
<polygon points="828.1,-4.5 941.1,-4.5 941.1,42.5 936.6,44.8 934.4,55.9 927.7,64.9 914.3,69.4 900.8,73.8 891.9,78.3 885.2,73.8 878.5,71.6 869.5,67.1 862.8,58.2 856.1,55.9 847.1,58.2 842.7,53.7 835.9,44.8 831.5,33.6 829.2,22.4 822.5,29.1 820.3,22.4 824.8,11.2" fill="#747474" stroke="#dcdcdc" stroke-width="1.8" stroke-linejoin="round" />
<polygon points="844.9,73.8 851.6,69.4 858.3,73.8 858.3,85.0 849.4,89.5 843.8,82.8" fill="#949494" stroke="#c0c0c0" stroke-width="0.8" stroke-linejoin="round" />
<polygon points="849.4,55.9 862.8,58.2 869.5,67.1 865.0,73.8 856.1,67.1" fill="#8d8d8d" />
<polygon points="818.0,67.1 824.8,69.4 838.2,82.8 840.4,91.7 833.7,94.0 824.8,82.8" fill="#727272" />
<polygon points="844.9,73.4 853.8,69.0 858.3,80.1 869.5,77.9 878.5,73.4 887.4,77.9 896.4,86.9 900.8,95.8 899.7,109.2 896.4,127.1 900.8,131.6 914.3,136.1 923.2,142.8 926.6,154.0 923.2,162.9 929.9,171.9 932.2,180.8 923.2,185.3 914.3,187.5 905.3,183.1 896.4,171.9 891.9,162.9 885.2,158.5 876.2,165.2 865.0,167.4 856.1,169.6 858.3,178.6 853.8,187.5 846.0,187.5 844.9,176.4 844.9,160.7 841.5,147.3 835.9,136.1 833.7,124.9 834.8,109.2 838.2,93.6 842.7,82.4" fill="#7e7e7e" stroke="#e0e0e0" stroke-width="1.9" stroke-linejoin="round" />
<polygon points="793.4,107.0 804.6,108.1 813.6,115.9 822.5,124.9 824.8,136.1 820.3,149.5 813.6,165.2 809.1,180.8 806.9,194.3 802.4,205.4 795.7,209.9 790.1,198.7 789.0,180.8 787.8,162.9 783.4,154.0 782.2,140.6 786.7,129.4 791.2,118.2" fill="#989898" stroke="#f0f0f0" stroke-width="2.0" stroke-linejoin="round" />
<polygon points="819.2,149.5 840.4,151.7 838.2,165.2 822.5,165.2" fill="#585858" />
<polygon points="941.1,131.6 932.2,138.3 927.7,149.5 927.7,160.7 934.4,174.1 941.1,176.4" fill="#828282" stroke="#b5b5b5" stroke-width="1.1" stroke-linejoin="round" />
<polygon points="909.8,124.9 921.0,124.9 923.2,133.8 914.3,136.1" fill="#8d8d8d" stroke="#b5b5b5" stroke-width="0.8" stroke-linejoin="round" />
<polygon points="907.5,93.6 918.7,95.8 921.0,109.2 912.0,104.8" fill="#525252" />
<polygon points="818.0,120.4 829.2,122.7 828.1,129.4 820.3,127.1" fill="#929292" />
<polygon points="830.3,238.5 836.1,221.2 847.6,209.7 861.9,204.0 884.9,204.0 899.3,209.7 910.8,221.2 916.5,239.9 915.1,252.3 909.1,268.4 904.2,270.7 906.5,277.0 914.0,280.7 918.8,289.1 923.7,299.1 928.9,308.9 931.2,319.0 876.3,319.0 861.9,301.7 847.6,287.3 838.9,273.0 833.2,255.7" fill="#6e6e6e" stroke="#cfcfcf" stroke-width="1.7" stroke-linejoin="round" />
<polygon points="738.3,298.8 747.0,291.7 761.3,293.1 767.1,301.7 764.2,308.9 749.8,310.3 741.2,306.0" fill="#848484" stroke="#b0b0b0" stroke-width="1" stroke-linejoin="round" />
<polygon points="941.0,232.7 930.9,238.5 926.6,250.0 928.0,264.4 933.8,270.1 941.0,267.2" fill="#828282" stroke="#aaa" stroke-width="1" stroke-linejoin="round" />
<polygon points="815.9,209.7 827.4,206.9 841.8,212.6 838.9,224.1 824.6,225.5 817.4,219.8" fill="#5c5c5c" />
<polygon points="678.0,201.1 689.5,189.6 712.5,183.9 735.5,189.6 758.4,204.0 781.4,212.6 804.4,211.2 815.9,216.9 818.2,229.9 813.1,241.4 804.4,252.9 792.9,267.2 781.4,278.1 761.3,283.9 747.0,287.9 738.3,288.8 729.7,280.2 718.2,272.4 703.8,267.8 696.6,255.7 689.5,238.5 680.8,224.1 676.5,212.6" fill="#7f7f7f" />
<polyline points="525.6,172.4 525.6,186.7 524.2,215.5 525.6,232.7 534.2,247.1 545.7,261.5 557.2,275.8 568.7,287.3 588.9,285.9 617.6,280.2 646.3,276.4 678.0,274.4 689.5,268.7 703.8,268.7 718.2,273.0 729.7,281.6 738.3,290.2 747.0,288.8 761.3,284.5 781.4,278.7 792.9,267.2 804.4,252.9 813.1,241.4 818.8,229.9 815.9,215.5 804.4,209.7" fill="none" stroke="#989898" stroke-width="1.0" stroke-linejoin="round" stroke-linecap="round"/>
<polyline points="600.4,94.9 597.5,100.6 591.7,112.1 583.1,120.7 571.6,126.5 560.1,129.3 548.6,138.0 534.2,149.5 522.7,153.8 517.0,158.1" fill="none" stroke="#d8d8d8" stroke-width="2.6" stroke-linejoin="round" stroke-linecap="round" opacity="0.9"/>
<polyline points="517.0,50.3 525.6,53.2 534.2,57.5 542.9,66.1" fill="none" stroke="#bbb" stroke-width="1.6" stroke-linejoin="round" stroke-linecap="round" opacity="0.7"/>
<polyline points="724.0,51.2 752.7,42.5 777.1,38.8" fill="none" stroke="#ececec" stroke-width="2.2" stroke-linejoin="round" stroke-linecap="round" opacity="0.95"/>
<polyline points="624.8,48.9 629.1,63.2 634.8,71.9 643.5,70.4" fill="none" stroke="#c8c8c8" stroke-width="1.8" stroke-linejoin="round" stroke-linecap="round" opacity="0.8"/>
<polyline points="637.7,179.6 655.0,176.7 672.2,182.4 689.5,189.6 712.5,183.9 729.7,172.4 747.0,175.2" fill="none" stroke="#c2c2c2" stroke-width="1.5" stroke-linejoin="round" stroke-linecap="round" opacity="0.8"/>
<polyline points="678.0,201.1 676.5,212.6 680.8,224.1 689.5,238.5 696.6,255.7 703.8,267.8 718.2,272.4 729.7,280.2" fill="none" stroke="#d4d4d4" stroke-width="1.8" stroke-linejoin="round" stroke-linecap="round" opacity="0.9"/>
<polyline points="666.5,227.0 643.5,238.5 626.2,244.2 609.0,255.7 591.7,273.0 574.5,284.5" fill="none" stroke="#c4c4c4" stroke-width="1.4" stroke-linejoin="round" stroke-linecap="round" opacity="0.8"/>
<polyline points="758.4,204.0 781.4,212.6 804.4,211.2" fill="none" stroke="#bdbdbd" stroke-width="1.4" stroke-linejoin="round" stroke-linecap="round" opacity="0.8"/>
<polyline points="833.2,255.7 838.9,273.0 847.6,287.3 861.9,301.7 876.3,316.1" fill="none" stroke="#c6c6c6" stroke-width="1.6" stroke-linejoin="round" stroke-linecap="round" opacity="0.85"/>
<polyline points="835.9,136.1 847.1,133.8 856.1,145.0 869.5,149.5 885.2,158.5 891.9,162.9 896.4,171.9" fill="none" stroke="#dcdcdc" stroke-width="1.5" stroke-linejoin="round" stroke-linecap="round" opacity="0.85"/>
<polyline points="851.6,107.0 865.0,118.2 878.5,127.1 896.4,127.1" fill="none" stroke="#d0d0d0" stroke-width="1.4" stroke-linejoin="round" stroke-linecap="round" opacity="0.8"/>
<ellipse cx="769.9" cy="222.6" rx="0.6" ry="0.6" fill="#b7b7b7" opacity="0.62" transform="rotate(38 769.9 222.6)"/>
<ellipse cx="645.5" cy="165.2" rx="1.5" ry="0.9" fill="#c1c1c1" opacity="0.70" transform="rotate(25 645.5 165.2)"/>
<ellipse cx="709.1" cy="246.8" rx="1.0" ry="0.8" fill="#dcdcdc" opacity="0.62" transform="rotate(8 709.1 246.8)"/>
<ellipse cx="645.6" cy="31.6" rx="2.0" ry="1.4" fill="#aaaaaa" opacity="0.91" transform="rotate(89 645.6 31.6)"/>
<ellipse cx="626.4" cy="208.4" rx="1.2" ry="0.9" fill="#fcfcfc" opacity="0.86" transform="rotate(33 626.4 208.4)"/>
<ellipse cx="911.7" cy="281.1" rx="3.2" ry="2.8" fill="#ababab" opacity="0.68" transform="rotate(35 911.7 281.1)"/>
<ellipse cx="680.9" cy="85.9" rx="2.3" ry="1.5" fill="#b4b4b4" opacity="0.87" transform="rotate(98 680.9 85.9)"/>
<ellipse cx="814.2" cy="229.2" rx="2.1" ry="1.2" fill="#f3f3f3" opacity="0.80" transform="rotate(21 814.2 229.2)"/>
<ellipse cx="656.6" cy="20.9" rx="1.2" ry="0.8" fill="#f5f5f5" opacity="0.74" transform="rotate(115 656.6 20.9)"/>
<ellipse cx="568.1" cy="224.2" rx="2.1" ry="1.7" fill="#d5d5d5" opacity="0.72" transform="rotate(89 568.1 224.2)"/>
<ellipse cx="528.7" cy="34.8" rx="0.7" ry="0.5" fill="#f6f6f6" opacity="0.65" transform="rotate(92 528.7 34.8)"/>
<ellipse cx="690.0" cy="237.5" rx="1.1" ry="0.6" fill="#f8f8f8" opacity="0.87" transform="rotate(29 690.0 237.5)"/>
<ellipse cx="783.4" cy="273.8" rx="2.2" ry="1.3" fill="#eeeeee" opacity="0.91" transform="rotate(97 783.4 273.8)"/>
<ellipse cx="651.2" cy="35.4" rx="1.1" ry="0.8" fill="#a8a8a8" opacity="0.75" transform="rotate(155 651.2 35.4)"/>
<ellipse cx="692.9" cy="70.5" rx="0.8" ry="0.6" fill="#d5d5d5" opacity="0.83" transform="rotate(58 692.9 70.5)"/>
<ellipse cx="726.3" cy="95.2" rx="1.2" ry="0.6" fill="#acacac" opacity="0.66" transform="rotate(90 726.3 95.2)"/>
<ellipse cx="578.7" cy="154.2" rx="2.6" ry="1.6" fill="#bcbcbc" opacity="0.84" transform="rotate(137 578.7 154.2)"/>
<ellipse cx="672.1" cy="198.9" rx="3.4" ry="2.3" fill="#c3c3c3" opacity="0.62" transform="rotate(150 672.1 198.9)"/>
<ellipse cx="535.1" cy="185.9" rx="2.0" ry="1.0" fill="#e0e0e0" opacity="0.62" transform="rotate(41 535.1 185.9)"/>
<ellipse cx="807.5" cy="122.0" rx="2.5" ry="1.4" fill="#f8f8f8" opacity="0.90" transform="rotate(20 807.5 122.0)"/>
<ellipse cx="626.1" cy="207.6" rx="2.2" ry="1.7" fill="#b0b0b0" opacity="0.91" transform="rotate(44 626.1 207.6)"/>
<ellipse cx="660.1" cy="110.3" rx="2.1" ry="1.9" fill="#dfdfdf" opacity="0.58" transform="rotate(140 660.1 110.3)"/>
<ellipse cx="585.7" cy="282.2" rx="3.3" ry="1.5" fill="#a8a8a8" opacity="0.61" transform="rotate(119 585.7 282.2)"/>
<ellipse cx="747.9" cy="217.6" rx="1.9" ry="1.2" fill="#c4c4c4" opacity="0.85" transform="rotate(43 747.9 217.6)"/>
<ellipse cx="790.2" cy="266.8" rx="3.4" ry="2.4" fill="#bfbfbf" opacity="0.65" transform="rotate(66 790.2 266.8)"/>
<ellipse cx="851.0" cy="158.3" rx="1.8" ry="1.3" fill="#c0c0c0" opacity="0.56" transform="rotate(130 851.0 158.3)"/>
<ellipse cx="788.5" cy="56.4" rx="2.5" ry="2.4" fill="#a9a9a9" opacity="0.92" transform="rotate(67 788.5 56.4)"/>
<ellipse cx="641.4" cy="121.5" rx="2.3" ry="1.5" fill="#f9f9f9" opacity="0.83" transform="rotate(100 641.4 121.5)"/>
<ellipse cx="576.7" cy="163.2" rx="2.4" ry="2.0" fill="#c7c7c7" opacity="0.67" transform="rotate(126 576.7 163.2)"/>
<ellipse cx="857.1" cy="254.6" rx="2.3" ry="2.2" fill="#ededed" opacity="0.81" transform="rotate(90 857.1 254.6)"/>
<ellipse cx="890.9" cy="106.8" rx="1.4" ry="0.7" fill="#d0d0d0" opacity="0.77" transform="rotate(6 890.9 106.8)"/>
<ellipse cx="638.1" cy="185.9" rx="0.7" ry="0.3" fill="#b3b3b3" opacity="0.76" transform="rotate(65 638.1 185.9)"/>
<ellipse cx="539.7" cy="167.3" rx="1.7" ry="1.4" fill="#d4d4d4" opacity="0.68" transform="rotate(176 539.7 167.3)"/>
<ellipse cx="851.2" cy="85.8" rx="2.7" ry="1.3" fill="#f0f0f0" opacity="0.83" transform="rotate(173 851.2 85.8)"/>
<ellipse cx="689.4" cy="55.2" rx="0.9" ry="0.6" fill="#e1e1e1" opacity="0.66" transform="rotate(129 689.4 55.2)"/>
<ellipse cx="750.3" cy="192.5" rx="1.4" ry="0.9" fill="#a9a9a9" opacity="0.60" transform="rotate(136 750.3 192.5)"/>
<ellipse cx="537.3" cy="13.7" rx="2.3" ry="2.0" fill="#d2d2d2" opacity="0.74" transform="rotate(18 537.3 13.7)"/>
<ellipse cx="590.6" cy="136.8" rx="1.4" ry="1.1" fill="#c8c8c8" opacity="0.80" transform="rotate(8 590.6 136.8)"/>
<ellipse cx="728.8" cy="269.1" rx="3.5" ry="1.8" fill="#aaaaaa" opacity="0.78" transform="rotate(116 728.8 269.1)"/>
<ellipse cx="912.0" cy="181.1" rx="1.4" ry="1.1" fill="#f9f9f9" opacity="0.70" transform="rotate(98 912.0 181.1)"/>
<ellipse cx="560.2" cy="6.7" rx="1.4" ry="1.1" fill="#f1f1f1" opacity="0.56" transform="rotate(57 560.2 6.7)"/>
<ellipse cx="859.3" cy="89.2" rx="0.8" ry="0.7" fill="#e7e7e7" opacity="0.87" transform="rotate(158 859.3 89.2)"/>
<ellipse cx="636.2" cy="56.5" rx="2.1" ry="1.9" fill="#c8c8c8" opacity="0.86" transform="rotate(74 636.2 56.5)"/>
<ellipse cx="877.7" cy="135.3" rx="3.8" ry="3.0" fill="#d3d3d3" opacity="0.88" transform="rotate(162 877.7 135.3)"/>
<ellipse cx="681.1" cy="4.4" rx="2.4" ry="1.3" fill="#fafafa" opacity="0.78" transform="rotate(171 681.1 4.4)"/>
<ellipse cx="782.7" cy="141.4" rx="1.2" ry="0.8" fill="#ececec" opacity="0.87" transform="rotate(135 782.7 141.4)"/>
<ellipse cx="556.2" cy="155.8" rx="0.7" ry="0.6" fill="#c6c6c6" opacity="0.60" transform="rotate(160 556.2 155.8)"/>
<ellipse cx="577.9" cy="239.4" rx="3.3" ry="1.6" fill="#aeaeae" opacity="0.88" transform="rotate(126 577.9 239.4)"/>
<ellipse cx="674.8" cy="117.0" rx="2.2" ry="2.2" fill="#c8c8c8" opacity="0.58" transform="rotate(136 674.8 117.0)"/>
<ellipse cx="564.6" cy="155.2" rx="1.1" ry="0.7" fill="#b2b2b2" opacity="0.81" transform="rotate(21 564.6 155.2)"/>
<ellipse cx="637.7" cy="272.9" rx="1.9" ry="1.6" fill="#ababab" opacity="0.91" transform="rotate(175 637.7 272.9)"/>
<ellipse cx="548.9" cy="174.4" rx="2.5" ry="1.9" fill="#cfcfcf" opacity="0.80" transform="rotate(125 548.9 174.4)"/>
<ellipse cx="762.8" cy="283.1" rx="0.7" ry="0.4" fill="#cfcfcf" opacity="0.80" transform="rotate(160 762.8 283.1)"/>
<ellipse cx="634.2" cy="59.9" rx="1.5" ry="1.0" fill="#fcfcfc" opacity="0.94" transform="rotate(14 634.2 59.9)"/>
<ellipse cx="810.5" cy="168.8" rx="1.2" ry="1.1" fill="#f7f7f7" opacity="0.88" transform="rotate(29 810.5 168.8)"/>
<ellipse cx="775.0" cy="131.9" rx="4.4" ry="3.7" fill="#c8c8c8" opacity="0.87" transform="rotate(5 775.0 131.9)"/>
<ellipse cx="931.7" cy="48.1" rx="1.8" ry="1.2" fill="#f0f0f0" opacity="0.74" transform="rotate(152 931.7 48.1)"/>
<ellipse cx="691.8" cy="86.6" rx="0.7" ry="0.7" fill="#fefefe" opacity="0.77" transform="rotate(180 691.8 86.6)"/>
<ellipse cx="874.0" cy="78.4" rx="1.5" ry="0.8" fill="#bbbbbb" opacity="0.82" transform="rotate(109 874.0 78.4)"/>
<ellipse cx="777.0" cy="113.1" rx="0.8" ry="0.7" fill="#d5d5d5" opacity="0.89" transform="rotate(139 777.0 113.1)"/>
<ellipse cx="749.2" cy="176.6" rx="2.4" ry="1.7" fill="#e9e9e9" opacity="0.80" transform="rotate(5 749.2 176.6)"/>
<ellipse cx="813.0" cy="67.7" rx="0.9" ry="0.4" fill="#cacaca" opacity="0.72" transform="rotate(106 813.0 67.7)"/>
<ellipse cx="896.8" cy="110.0" rx="1.6" ry="1.5" fill="#f3f3f3" opacity="0.93" transform="rotate(112 896.8 110.0)"/>
<ellipse cx="724.2" cy="81.8" rx="1.5" ry="1.5" fill="#dfdfdf" opacity="0.65" transform="rotate(59 724.2 81.8)"/>
<ellipse cx="549.8" cy="41.3" rx="0.9" ry="0.5" fill="#b7b7b7" opacity="0.69" transform="rotate(115 549.8 41.3)"/>
<ellipse cx="893.8" cy="149.3" rx="1.9" ry="1.1" fill="#b6b6b6" opacity="0.66" transform="rotate(7 893.8 149.3)"/>
<ellipse cx="568.5" cy="145.2" rx="1.0" ry="0.7" fill="#ababab" opacity="0.87" transform="rotate(124 568.5 145.2)"/>
<ellipse cx="884.0" cy="289.2" rx="0.7" ry="0.5" fill="#b8b8b8" opacity="0.63" transform="rotate(135 884.0 289.2)"/>
<ellipse cx="673.2" cy="152.7" rx="1.8" ry="1.3" fill="#ababab" opacity="0.65" transform="rotate(135 673.2 152.7)"/>
<ellipse cx="732.4" cy="167.6" rx="0.8" ry="0.6" fill="#bfbfbf" opacity="0.70" transform="rotate(44 732.4 167.6)"/>
<ellipse cx="526.4" cy="101.8" rx="1.8" ry="1.1" fill="#dbdbdb" opacity="0.82" transform="rotate(160 526.4 101.8)"/>
<ellipse cx="848.7" cy="157.0" rx="0.8" ry="0.6" fill="#cdcdcd" opacity="0.60" transform="rotate(134 848.7 157.0)"/>
<ellipse cx="636.9" cy="114.6" rx="1.9" ry="1.5" fill="#dcdcdc" opacity="0.64" transform="rotate(178 636.9 114.6)"/>
<ellipse cx="560.6" cy="48.8" rx="1.1" ry="0.6" fill="#b7b7b7" opacity="0.91" transform="rotate(51 560.6 48.8)"/>
<ellipse cx="551.6" cy="165.2" rx="2.6" ry="2.3" fill="#fcfcfc" opacity="0.90" transform="rotate(72 551.6 165.2)"/>
<ellipse cx="860.4" cy="81.7" rx="0.9" ry="0.8" fill="#d9d9d9" opacity="0.66" transform="rotate(100 860.4 81.7)"/>
<ellipse cx="653.6" cy="134.2" rx="2.9" ry="1.6" fill="#c1c1c1" opacity="0.78" transform="rotate(110 653.6 134.2)"/>
<ellipse cx="582.7" cy="151.6" rx="1.7" ry="0.9" fill="#adadad" opacity="0.95" transform="rotate(24 582.7 151.6)"/>
<ellipse cx="653.1" cy="254.5" rx="1.1" ry="0.9" fill="#d1d1d1" opacity="0.71" transform="rotate(107 653.1 254.5)"/>
<ellipse cx="866.0" cy="303.1" rx="0.8" ry="0.7" fill="#adadad" opacity="0.85" transform="rotate(33 866.0 303.1)"/>
<ellipse cx="758.7" cy="264.5" rx="0.9" ry="0.8" fill="#b6b6b6" opacity="0.88" transform="rotate(29 758.7 264.5)"/>
<ellipse cx="796.7" cy="164.7" rx="1.3" ry="1.2" fill="#cecece" opacity="0.70" transform="rotate(147 796.7 164.7)"/>
<ellipse cx="711.9" cy="95.3" rx="2.1" ry="1.6" fill="#c9c9c9" opacity="0.77" transform="rotate(162 711.9 95.3)"/>
<ellipse cx="781.0" cy="105.8" rx="0.9" ry="0.8" fill="#f5f5f5" opacity="0.87" transform="rotate(96 781.0 105.8)"/>
<ellipse cx="581.6" cy="98.6" rx="2.0" ry="1.5" fill="#eaeaea" opacity="0.90" transform="rotate(103 581.6 98.6)"/>
<ellipse cx="661.3" cy="258.1" rx="0.8" ry="0.8" fill="#ededed" opacity="0.61" transform="rotate(72 661.3 258.1)"/>
<ellipse cx="614.1" cy="227.1" rx="2.0" ry="1.7" fill="#bdbdbd" opacity="0.69" transform="rotate(98 614.1 227.1)"/>
<ellipse cx="762.4" cy="126.5" rx="1.5" ry="1.5" fill="#d4d4d4" opacity="0.79" transform="rotate(106 762.4 126.5)"/>
<ellipse cx="908.6" cy="177.9" rx="2.0" ry="1.9" fill="#dadada" opacity="0.79" transform="rotate(27 908.6 177.9)"/>
<ellipse cx="695.7" cy="231.5" rx="2.5" ry="2.4" fill="#fdfdfd" opacity="0.89" transform="rotate(20 695.7 231.5)"/>
<ellipse cx="765.7" cy="125.9" rx="0.7" ry="0.5" fill="#c5c5c5" opacity="0.71" transform="rotate(1 765.7 125.9)"/>
<ellipse cx="743.2" cy="288.9" rx="1.3" ry="0.9" fill="#bbbbbb" opacity="0.73" transform="rotate(81 743.2 288.9)"/>
<ellipse cx="726.8" cy="132.1" rx="2.4" ry="1.7" fill="#a9a9a9" opacity="0.82" transform="rotate(114 726.8 132.1)"/>
<ellipse cx="580.3" cy="130.8" rx="0.8" ry="0.8" fill="#adadad" opacity="0.85" transform="rotate(107 580.3 130.8)"/>
<ellipse cx="533.3" cy="148.8" rx="1.7" ry="0.9" fill="#d5d5d5" opacity="0.73" transform="rotate(82 533.3 148.8)"/>
<ellipse cx="685.9" cy="176.2" rx="0.9" ry="0.5" fill="#c8c8c8" opacity="0.66" transform="rotate(170 685.9 176.2)"/>
<ellipse cx="787.8" cy="128.9" rx="0.7" ry="0.4" fill="#aaaaaa" opacity="0.64" transform="rotate(119 787.8 128.9)"/>
<ellipse cx="614.8" cy="211.3" rx="0.6" ry="0.4" fill="#e0e0e0" opacity="0.65" transform="rotate(32 614.8 211.3)"/>
<ellipse cx="559.7" cy="77.1" rx="2.0" ry="1.9" fill="#e2e2e2" opacity="0.63" transform="rotate(71 559.7 77.1)"/>
<ellipse cx="523.4" cy="27.8" rx="1.0" ry="0.5" fill="#cccccc" opacity="0.91" transform="rotate(105 523.4 27.8)"/>
<ellipse cx="860.5" cy="108.0" rx="1.1" ry="0.8" fill="#dedede" opacity="0.71" transform="rotate(48 860.5 108.0)"/>
<ellipse cx="749.3" cy="137.5" rx="1.2" ry="1.2" fill="#f3f3f3" opacity="0.74" transform="rotate(25 749.3 137.5)"/>
<ellipse cx="892.8" cy="251.4" rx="1.5" ry="0.7" fill="#dfdfdf" opacity="0.65" transform="rotate(97 892.8 251.4)"/>
<ellipse cx="576.4" cy="262.3" rx="2.6" ry="2.0" fill="#a9a9a9" opacity="0.92" transform="rotate(49 576.4 262.3)"/>
<ellipse cx="567.3" cy="181.4" rx="1.1" ry="0.9" fill="#b9b9b9" opacity="0.55" transform="rotate(149 567.3 181.4)"/>
<ellipse cx="575.4" cy="282.7" rx="2.3" ry="1.9" fill="#b7b7b7" opacity="0.92" transform="rotate(120 575.4 282.7)"/>
<ellipse cx="693.5" cy="120.9" rx="1.6" ry="0.9" fill="#afafaf" opacity="0.79" transform="rotate(133 693.5 120.9)"/>
<ellipse cx="620.8" cy="122.8" rx="1.2" ry="0.8" fill="#d9d9d9" opacity="0.74" transform="rotate(53 620.8 122.8)"/>
<ellipse cx="531.1" cy="83.1" rx="1.8" ry="0.9" fill="#c5c5c5" opacity="0.86" transform="rotate(107 531.1 83.1)"/>
<ellipse cx="806.4" cy="137.1" rx="1.1" ry="1.0" fill="#bfbfbf" opacity="0.79" transform="rotate(125 806.4 137.1)"/>
<ellipse cx="669.2" cy="29.7" rx="2.4" ry="1.4" fill="#b8b8b8" opacity="0.77" transform="rotate(80 669.2 29.7)"/>
<ellipse cx="883.8" cy="230.2" rx="2.2" ry="1.8" fill="#bdbdbd" opacity="0.75" transform="rotate(153 883.8 230.2)"/>
<ellipse cx="913.6" cy="13.3" rx="2.0" ry="1.9" fill="#f7f7f7" opacity="0.56" transform="rotate(102 913.6 13.3)"/>
<ellipse cx="810.2" cy="94.1" rx="2.4" ry="2.4" fill="#f2f2f2" opacity="0.89" transform="rotate(85 810.2 94.1)"/>
<ellipse cx="651.7" cy="260.5" rx="0.7" ry="0.5" fill="#aeaeae" opacity="0.83" transform="rotate(22 651.7 260.5)"/>
<ellipse cx="660.4" cy="227.9" rx="0.7" ry="0.5" fill="#c3c3c3" opacity="0.80" transform="rotate(142 660.4 227.9)"/>
<ellipse cx="615.6" cy="8.6" rx="2.3" ry="1.2" fill="#f9f9f9" opacity="0.87" transform="rotate(95 615.6 8.6)"/>
<ellipse cx="839.5" cy="126.8" rx="1.6" ry="1.3" fill="#eaeaea" opacity="0.72" transform="rotate(177 839.5 126.8)"/>
<ellipse cx="694.5" cy="231.9" rx="1.1" ry="0.6" fill="#c1c1c1" opacity="0.64" transform="rotate(52 694.5 231.9)"/>
<ellipse cx="535.6" cy="6.6" rx="2.6" ry="1.8" fill="#bababa" opacity="0.93" transform="rotate(122 535.6 6.6)"/>
<ellipse cx="847.5" cy="29.0" rx="1.4" ry="1.3" fill="#dddddd" opacity="0.62" transform="rotate(84 847.5 29.0)"/>
<ellipse cx="844.6" cy="110.6" rx="0.7" ry="0.7" fill="#fefefe" opacity="0.62" transform="rotate(167 844.6 110.6)"/>
<ellipse cx="684.0" cy="238.3" rx="2.0" ry="1.1" fill="#bbbbbb" opacity="0.76" transform="rotate(40 684.0 238.3)"/>
<ellipse cx="766.4" cy="182.6" rx="0.8" ry="0.7" fill="#f5f5f5" opacity="0.93" transform="rotate(23 766.4 182.6)"/>
<ellipse cx="879.2" cy="254.4" rx="3.4" ry="2.4" fill="#c8c8c8" opacity="0.65" transform="rotate(74 879.2 254.4)"/>
<ellipse cx="552.0" cy="69.9" rx="2.0" ry="1.1" fill="#d1d1d1" opacity="0.79" transform="rotate(89 552.0 69.9)"/>
<ellipse cx="863.5" cy="109.9" rx="2.0" ry="1.5" fill="#ededed" opacity="0.81" transform="rotate(158 863.5 109.9)"/>
<ellipse cx="874.4" cy="272.5" rx="2.0" ry="1.9" fill="#dddddd" opacity="0.85" transform="rotate(122 874.4 272.5)"/>
<ellipse cx="584.5" cy="276.7" rx="2.3" ry="1.2" fill="#c5c5c5" opacity="0.85" transform="rotate(23 584.5 276.7)"/>
<ellipse cx="585.4" cy="257.0" rx="4.1" ry="2.7" fill="#dddddd" opacity="0.94" transform="rotate(52 585.4 257.0)"/>
<ellipse cx="782.7" cy="82.3" rx="1.9" ry="1.4" fill="#eaeaea" opacity="0.77" transform="rotate(19 782.7 82.3)"/>
<ellipse cx="644.1" cy="222.7" rx="0.7" ry="0.6" fill="#ababab" opacity="0.90" transform="rotate(112 644.1 222.7)"/>
<ellipse cx="925.9" cy="304.3" rx="2.1" ry="1.2" fill="#a9a9a9" opacity="0.68" transform="rotate(4 925.9 304.3)"/>
<ellipse cx="722.7" cy="242.1" rx="2.0" ry="1.4" fill="#cdcdcd" opacity="0.73" transform="rotate(179 722.7 242.1)"/>
<ellipse cx="586.6" cy="249.8" rx="3.6" ry="1.9" fill="#e0e0e0" opacity="0.66" transform="rotate(122 586.6 249.8)"/>
<ellipse cx="916.4" cy="48.3" rx="1.5" ry="1.4" fill="#cacaca" opacity="0.66" transform="rotate(115 916.4 48.3)"/>
<ellipse cx="892.6" cy="73.0" rx="1.0" ry="0.5" fill="#f3f3f3" opacity="0.74" transform="rotate(66 892.6 73.0)"/>
<ellipse cx="923.7" cy="59.1" rx="2.3" ry="2.1" fill="#eaeaea" opacity="0.80" transform="rotate(152 923.7 59.1)"/>
<ellipse cx="573.0" cy="11.2" rx="2.4" ry="2.0" fill="#b2b2b2" opacity="0.60" transform="rotate(87 573.0 11.2)"/>
<ellipse cx="805.3" cy="135.7" rx="1.8" ry="1.2" fill="#bfbfbf" opacity="0.87" transform="rotate(105 805.3 135.7)"/>
<ellipse cx="648.0" cy="143.5" rx="0.6" ry="0.3" fill="#dcdcdc" opacity="0.67" transform="rotate(86 648.0 143.5)"/>
<ellipse cx="844.8" cy="13.4" rx="1.6" ry="0.9" fill="#b4b4b4" opacity="0.75" transform="rotate(178 844.8 13.4)"/>
<ellipse cx="777.0" cy="220.9" rx="1.7" ry="0.9" fill="#afafaf" opacity="0.69" transform="rotate(93 777.0 220.9)"/>
<ellipse cx="531.9" cy="25.6" rx="1.4" ry="0.8" fill="#ededed" opacity="0.63" transform="rotate(124 531.9 25.6)"/>
<ellipse cx="784.7" cy="222.1" rx="1.2" ry="1.0" fill="#e5e5e5" opacity="0.90" transform="rotate(97 784.7 222.1)"/>
<ellipse cx="660.2" cy="256.0" rx="0.8" ry="0.7" fill="#cfcfcf" opacity="0.81" transform="rotate(147 660.2 256.0)"/>
<ellipse cx="738.6" cy="230.0" rx="0.8" ry="0.4" fill="#f3f3f3" opacity="0.64" transform="rotate(29 738.6 230.0)"/>
<ellipse cx="594.3" cy="248.2" rx="1.9" ry="1.4" fill="#bbbbbb" opacity="0.95" transform="rotate(129 594.3 248.2)"/>
<ellipse cx="601.6" cy="213.9" rx="0.7" ry="0.4" fill="#f3f3f3" opacity="0.84" transform="rotate(83 601.6 213.9)"/>
<ellipse cx="662.9" cy="117.1" rx="2.6" ry="1.3" fill="#cecece" opacity="0.84" transform="rotate(104 662.9 117.1)"/>
<ellipse cx="721.9" cy="274.4" rx="2.4" ry="1.7" fill="#f7f7f7" opacity="0.63" transform="rotate(107 721.9 274.4)"/>
<ellipse cx="779.0" cy="198.7" rx="2.1" ry="1.2" fill="#b7b7b7" opacity="0.65" transform="rotate(164 779.0 198.7)"/>
<ellipse cx="925.0" cy="57.6" rx="2.3" ry="1.7" fill="#cecece" opacity="0.76" transform="rotate(157 925.0 57.6)"/>
<ellipse cx="668.5" cy="186.6" rx="0.9" ry="0.6" fill="#e1e1e1" opacity="0.68" transform="rotate(46 668.5 186.6)"/>
<ellipse cx="842.1" cy="42.0" rx="2.5" ry="1.8" fill="#b6b6b6" opacity="0.76" transform="rotate(13 842.1 42.0)"/>
<ellipse cx="659.2" cy="260.4" rx="1.5" ry="0.9" fill="#b6b6b6" opacity="0.62" transform="rotate(127 659.2 260.4)"/>
<ellipse cx="533.4" cy="231.5" rx="1.9" ry="1.4" fill="#dadada" opacity="0.90" transform="rotate(145 533.4 231.5)"/>
<ellipse cx="631.0" cy="18.9" rx="3.0" ry="2.6" fill="#cfcfcf" opacity="0.92" transform="rotate(22 631.0 18.9)"/>
<ellipse cx="650.5" cy="159.8" rx="0.7" ry="0.4" fill="#a8a8a8" opacity="0.93" transform="rotate(174 650.5 159.8)"/>
<ellipse cx="785.8" cy="272.7" rx="1.5" ry="1.1" fill="#b4b4b4" opacity="0.56" transform="rotate(120 785.8 272.7)"/>
<ellipse cx="647.0" cy="221.6" rx="1.0" ry="0.8" fill="#e2e2e2" opacity="0.73" transform="rotate(17 647.0 221.6)"/>
<ellipse cx="881.8" cy="56.4" rx="2.0" ry="1.8" fill="#d3d3d3" opacity="0.80" transform="rotate(123 881.8 56.4)"/>
<ellipse cx="806.9" cy="212.7" rx="1.0" ry="0.9" fill="#b1b1b1" opacity="0.81" transform="rotate(117 806.9 212.7)"/>
<ellipse cx="936.8" cy="16.1" rx="2.6" ry="1.8" fill="#d9d9d9" opacity="0.85" transform="rotate(141 936.8 16.1)"/>
<ellipse cx="886.1" cy="127.5" rx="1.3" ry="1.0" fill="#ededed" opacity="0.72" transform="rotate(137 886.1 127.5)"/>
<ellipse cx="860.7" cy="38.6" rx="1.7" ry="0.8" fill="#cacaca" opacity="0.83" transform="rotate(66 860.7 38.6)"/>
<ellipse cx="680.8" cy="141.4" rx="1.1" ry="0.7" fill="#dcdcdc" opacity="0.82" transform="rotate(13 680.8 141.4)"/>
<ellipse cx="677.1" cy="271.2" rx="2.9" ry="1.9" fill="#c9c9c9" opacity="0.71" transform="rotate(61 677.1 271.2)"/>
<ellipse cx="772.7" cy="240.4" rx="2.2" ry="1.9" fill="#b9b9b9" opacity="0.55" transform="rotate(3 772.7 240.4)"/>
<ellipse cx="665.3" cy="32.7" rx="1.6" ry="1.0" fill="#ededed" opacity="0.77" transform="rotate(55 665.3 32.7)"/>
<ellipse cx="648.4" cy="192.0" rx="2.0" ry="1.3" fill="#b7b7b7" opacity="0.82" transform="rotate(22 648.4 192.0)"/>
<ellipse cx="594.0" cy="165.4" rx="2.0" ry="1.1" fill="#fbfbfb" opacity="0.74" transform="rotate(46 594.0 165.4)"/>
<ellipse cx="855.7" cy="173.2" rx="0.7" ry="0.6" fill="#efefef" opacity="0.90" transform="rotate(108 855.7 173.2)"/>
<ellipse cx="774.0" cy="129.7" rx="2.3" ry="2.2" fill="#ebebeb" opacity="0.66" transform="rotate(43 774.0 129.7)"/>
<ellipse cx="862.7" cy="133.6" rx="1.9" ry="1.1" fill="#dbdbdb" opacity="0.62" transform="rotate(81 862.7 133.6)"/>
<ellipse cx="527.9" cy="201.9" rx="1.8" ry="1.4" fill="#dbdbdb" opacity="0.75" transform="rotate(70 527.9 201.9)"/>
<ellipse cx="931.9" cy="43.7" rx="2.0" ry="1.4" fill="#e4e4e4" opacity="0.95" transform="rotate(129 931.9 43.7)"/>
<ellipse cx="571.8" cy="33.6" rx="2.0" ry="1.6" fill="#afafaf" opacity="0.91" transform="rotate(14 571.8 33.6)"/>
<ellipse cx="598.4" cy="102.2" rx="1.9" ry="1.1" fill="#adadad" opacity="0.87" transform="rotate(93 598.4 102.2)"/>
<ellipse cx="615.9" cy="170.0" rx="2.4" ry="1.9" fill="#c4c4c4" opacity="0.82" transform="rotate(58 615.9 170.0)"/>
<ellipse cx="751.7" cy="229.7" rx="1.5" ry="0.8" fill="#b7b7b7" opacity="0.83" transform="rotate(172 751.7 229.7)"/>
<ellipse cx="602.2" cy="168.7" rx="0.8" ry="0.6" fill="#e1e1e1" opacity="0.87" transform="rotate(63 602.2 168.7)"/>
<ellipse cx="685.3" cy="48.7" rx="2.6" ry="2.5" fill="#d5d5d5" opacity="0.80" transform="rotate(152 685.3 48.7)"/>
<ellipse cx="555.3" cy="237.4" rx="0.9" ry="0.8" fill="#ababab" opacity="0.67" transform="rotate(128 555.3 237.4)"/>
<ellipse cx="628.2" cy="113.7" rx="0.8" ry="0.8" fill="#cacaca" opacity="0.73" transform="rotate(55 628.2 113.7)"/>
<ellipse cx="903.2" cy="156.5" rx="2.6" ry="2.4" fill="#b2b2b2" opacity="0.88" transform="rotate(168 903.2 156.5)"/>
<ellipse cx="881.7" cy="253.3" rx="3.9" ry="2.3" fill="#b7b7b7" opacity="0.83" transform="rotate(73 881.7 253.3)"/>
<ellipse cx="786.6" cy="258.4" rx="0.9" ry="0.8" fill="#dcdcdc" opacity="0.86" transform="rotate(88 786.6 258.4)"/>
<ellipse cx="591.3" cy="158.3" rx="1.4" ry="0.8" fill="#aaaaaa" opacity="0.60" transform="rotate(12 591.3 158.3)"/>
<ellipse cx="921.5" cy="173.0" rx="2.5" ry="1.8" fill="#cecece" opacity="0.59" transform="rotate(91 921.5 173.0)"/>
<ellipse cx="786.5" cy="68.6" rx="1.8" ry="1.5" fill="#ebebeb" opacity="0.73" transform="rotate(11 786.5 68.6)"/>
<ellipse cx="542.2" cy="218.5" rx="2.6" ry="1.6" fill="#c2c2c2" opacity="0.59" transform="rotate(22 542.2 218.5)"/>
<ellipse cx="646.3" cy="196.3" rx="1.7" ry="1.2" fill="#cfcfcf" opacity="0.63" transform="rotate(160 646.3 196.3)"/>
<ellipse cx="672.1" cy="130.6" rx="2.3" ry="2.0" fill="#cccccc" opacity="0.74" transform="rotate(2 672.1 130.6)"/>
<ellipse cx="526.0" cy="82.3" rx="2.1" ry="1.2" fill="#a9a9a9" opacity="0.65" transform="rotate(39 526.0 82.3)"/>
<ellipse cx="926.9" cy="251.9" rx="4.5" ry="3.0" fill="#cfcfcf" opacity="0.89" transform="rotate(99 926.9 251.9)"/>
<ellipse cx="559.1" cy="153.8" rx="0.9" ry="0.6" fill="#c8c8c8" opacity="0.71" transform="rotate(86 559.1 153.8)"/>
<ellipse cx="710.5" cy="246.7" rx="2.4" ry="2.3" fill="#e3e3e3" opacity="0.73" transform="rotate(57 710.5 246.7)"/>
<ellipse cx="624.7" cy="264.2" rx="0.7" ry="0.6" fill="#e1e1e1" opacity="0.91" transform="rotate(115 624.7 264.2)"/>
<ellipse cx="545.9" cy="163.3" rx="0.9" ry="0.8" fill="#ababab" opacity="0.58" transform="rotate(122 545.9 163.3)"/>
<ellipse cx="547.9" cy="4.8" rx="2.5" ry="2.2" fill="#c6c6c6" opacity="0.86" transform="rotate(53 547.9 4.8)"/>
<ellipse cx="795.1" cy="59.0" rx="0.9" ry="0.5" fill="#bfbfbf" opacity="0.56" transform="rotate(138 795.1 59.0)"/>
<ellipse cx="641.8" cy="241.8" rx="1.8" ry="1.3" fill="#dddddd" opacity="0.86" transform="rotate(22 641.8 241.8)"/>
<ellipse cx="787.8" cy="167.0" rx="0.7" ry="0.7" fill="#fdfdfd" opacity="0.79" transform="rotate(53 787.8 167.0)"/>
<ellipse cx="762.0" cy="235.1" rx="2.2" ry="1.8" fill="#f8f8f8" opacity="0.64" transform="rotate(61 762.0 235.1)"/>
<ellipse cx="673.9" cy="136.2" rx="1.5" ry="1.2" fill="#b2b2b2" opacity="0.63" transform="rotate(43 673.9 136.2)"/>
<ellipse cx="637.8" cy="256.4" rx="2.3" ry="2.1" fill="#e9e9e9" opacity="0.73" transform="rotate(45 637.8 256.4)"/>
<ellipse cx="870.8" cy="229.0" rx="2.2" ry="1.8" fill="#fdfdfd" opacity="0.92" transform="rotate(98 870.8 229.0)"/>
<ellipse cx="536.1" cy="52.6" rx="0.9" ry="0.7" fill="#d4d4d4" opacity="0.89" transform="rotate(38 536.1 52.6)"/>
<ellipse cx="642.7" cy="177.9" rx="2.0" ry="1.9" fill="#b5b5b5" opacity="0.73" transform="rotate(137 642.7 177.9)"/>
<ellipse cx="521.9" cy="78.2" rx="3.7" ry="3.3" fill="#ededed" opacity="0.63" transform="rotate(72 521.9 78.2)"/>
<ellipse cx="750.6" cy="230.5" rx="1.8" ry="1.1" fill="#d8d8d8" opacity="0.55" transform="rotate(141 750.6 230.5)"/>
<ellipse cx="836.9" cy="12.1" rx="2.1" ry="1.3" fill="#c4c4c4" opacity="0.61" transform="rotate(66 836.9 12.1)"/>
<ellipse cx="646.0" cy="275.4" rx="2.6" ry="1.8" fill="#f5f5f5" opacity="0.79" transform="rotate(130 646.0 275.4)"/>
<ellipse cx="682.0" cy="130.2" rx="2.0" ry="1.0" fill="#ededed" opacity="0.59" transform="rotate(64 682.0 130.2)"/>
<ellipse cx="752.9" cy="189.9" rx="2.0" ry="1.8" fill="#d3d3d3" opacity="0.58" transform="rotate(149 752.9 189.9)"/>
<ellipse cx="542.5" cy="105.6" rx="2.2" ry="1.9" fill="#cecece" opacity="0.61" transform="rotate(93 542.5 105.6)"/>
<ellipse cx="655.5" cy="136.8" rx="0.8" ry="0.5" fill="#fefefe" opacity="0.92" transform="rotate(132 655.5 136.8)"/>
<ellipse cx="787.2" cy="132.9" rx="3.4" ry="2.7" fill="#f1f1f1" opacity="0.70" transform="rotate(74 787.2 132.9)"/>
<ellipse cx="757.6" cy="185.0" rx="1.0" ry="0.7" fill="#aaaaaa" opacity="0.88" transform="rotate(5 757.6 185.0)"/>
<ellipse cx="626.6" cy="135.5" rx="2.3" ry="2.2" fill="#cfcfcf" opacity="0.74" transform="rotate(144 626.6 135.5)"/>
<ellipse cx="573.9" cy="26.2" rx="2.1" ry="1.5" fill="#eaeaea" opacity="0.61" transform="rotate(131 573.9 26.2)"/>
<ellipse cx="773.7" cy="43.4" rx="2.1" ry="1.7" fill="#acacac" opacity="0.66" transform="rotate(12 773.7 43.4)"/>
<ellipse cx="631.9" cy="238.7" rx="2.7" ry="2.1" fill="#aaaaaa" opacity="0.58" transform="rotate(88 631.9 238.7)"/>
<ellipse cx="897.8" cy="44.6" rx="1.7" ry="1.2" fill="#a9a9a9" opacity="0.82" transform="rotate(162 897.8 44.6)"/>
<ellipse cx="921.7" cy="176.3" rx="2.5" ry="1.3" fill="#e7e7e7" opacity="0.94" transform="rotate(47 921.7 176.3)"/>
<ellipse cx="625.5" cy="205.8" rx="1.0" ry="0.8" fill="#dcdcdc" opacity="0.69" transform="rotate(175 625.5 205.8)"/>
<ellipse cx="565.8" cy="48.3" rx="1.1" ry="0.7" fill="#d5d5d5" opacity="0.60" transform="rotate(101 565.8 48.3)"/>
<ellipse cx="878.4" cy="227.2" rx="0.7" ry="0.6" fill="#cfcfcf" opacity="0.74" transform="rotate(15 878.4 227.2)"/>
<ellipse cx="874.1" cy="210.4" rx="1.5" ry="1.1" fill="#adadad" opacity="0.76" transform="rotate(98 874.1 210.4)"/>
<polyline points="574.0,51.5 575.9,65.6 584.3,82.0 600.7,91.8 619.4,86.7 635.8,74.0" fill="none" stroke="#d4d4d4" stroke-width="1.6" stroke-linejoin="round" stroke-linecap="round" opacity="0.9"/>
<polyline points="518.7,46.8 532.8,39.8 546.8,29.0 558.5,22.5" fill="none" stroke="#c8c8c8" stroke-width="1.6" stroke-linejoin="round" stroke-linecap="round" opacity="0.9"/>
<polyline points="518.7,28.1 532.8,14.1 551.5,9.4 574.9,2.3" fill="none" stroke="#cfcfcf" stroke-width="1.4" stroke-linejoin="round" stroke-linecap="round" opacity="0.9"/>
<polyline points="560.9,14.1 584.3,9.4 607.7,0.0" fill="none" stroke="#c4c4c4" stroke-width="1.4" stroke-linejoin="round" stroke-linecap="round" opacity="0.9"/>
<polyline points="624.6,46.8 633.5,70.3 642.9,74.0" fill="none" stroke="#d0d0d0" stroke-width="1.5" stroke-linejoin="round" stroke-linecap="round" opacity="0.9"/>
<polyline points="720.1,56.2 719.2,93.7 721.1,131.1 724.8,148.9" fill="none" stroke="#c6c6c6" stroke-width="1.3" stroke-linejoin="round" stroke-linecap="round" opacity="0.9"/>
<polyline points="722.5,52.5 748.2,45.9 776.3,40.3" fill="none" stroke="#fafafa" stroke-width="2.4" stroke-linejoin="round" stroke-linecap="round"/>
<polyline points="781.0,32.8 799.8,29.0 818.5,32.8 819.4,56.2" fill="none" stroke="#cfcfcf" stroke-width="1.4" stroke-linejoin="round" stroke-linecap="round" opacity="0.9"/>
<polyline points="788.1,108.7 784.8,135.8 789.5,168.6 793.2,196.7 799.8,208.4" fill="none" stroke="#ececec" stroke-width="1.8" stroke-linejoin="round" stroke-linecap="round" opacity="0.9"/>
<polyline points="799.8,107.7 813.8,121.8 823.2,140.5 818.5,159.3" fill="none" stroke="#e4e4e4" stroke-width="1.6" stroke-linejoin="round" stroke-linecap="round" opacity="0.9"/>
<polyline points="795.1,117.1 799.8,140.5 804.4,163.9 804.4,187.4" fill="none" stroke="#dadada" stroke-width="1.2" stroke-linejoin="round" stroke-linecap="round" opacity="0.8"/>
<polyline points="804.4,121.8 809.1,140.5 812.9,159.3" fill="none" stroke="#dadada" stroke-width="1.2" stroke-linejoin="round" stroke-linecap="round" opacity="0.8"/>
<polyline points="837.2,84.3 841.9,117.1 848.9,140.5 846.6,182.7" fill="none" stroke="#e0e0e0" stroke-width="1.7" stroke-linejoin="round" stroke-linecap="round" opacity="0.9"/>
<polyline points="848.9,140.5 870.0,135.8 888.8,131.1 898.1,140.5 912.2,154.6 921.5,178.0 928.6,185.0" fill="none" stroke="#e8e8e8" stroke-width="1.8" stroke-linejoin="round" stroke-linecap="round" opacity="0.9"/>
<polyline points="851.3,74.9 870.0,70.3 888.8,74.9 898.1,93.7 898.1,126.5" fill="none" stroke="#d8d8d8" stroke-width="1.6" stroke-linejoin="round" stroke-linecap="round" opacity="0.9"/>
<polyline points="856.0,93.7 874.7,107.7 888.8,112.4" fill="none" stroke="#cfcfcf" stroke-width="1.3" stroke-linejoin="round" stroke-linecap="round" opacity="0.9"/>
<polyline points="823.2,14.1 827.9,32.8 846.6,56.2 870.0,70.3 893.4,74.9 921.5,65.6 935.6,46.8" fill="none" stroke="#d0d0d0" stroke-width="1.6" stroke-linejoin="round" stroke-linecap="round" opacity="0.9"/>
<polyline points="827.9,18.7 856.0,28.1 893.4,25.8 921.5,18.7" fill="none" stroke="#bdbdbd" stroke-width="1.2" stroke-linejoin="round" stroke-linecap="round" opacity="0.8"/>
<polyline points="830.7,234.2 834.9,257.6 848.9,281.0 863.0,299.8 874.7,311.5" fill="none" stroke="#e0e0e0" stroke-width="1.8" stroke-linejoin="round" stroke-linecap="round" opacity="0.9"/>
<polyline points="837.2,224.8 856.0,208.4 884.1,203.7 907.5,215.5 916.9,243.6" fill="none" stroke="#bcbcbc" stroke-width="1.2" stroke-linejoin="round" stroke-linecap="round" opacity="0.8"/>
<polyline points="841.9,243.6 856.0,224.8 874.7,220.1 898.1,229.5" fill="none" stroke="#b4b4b4" stroke-width="1.0" stroke-linejoin="round" stroke-linecap="round" opacity="0.7"/>
<polyline points="856.0,262.3 874.7,243.6 898.1,243.6 907.5,262.3" fill="none" stroke="#b4b4b4" stroke-width="1.0" stroke-linejoin="round" stroke-linecap="round" opacity="0.7"/>
<polyline points="762.3,201.4 781.0,210.8 804.4,215.5 819.4,224.8" fill="none" stroke="#dcdcdc" stroke-width="1.5" stroke-linejoin="round" stroke-linecap="round" opacity="0.9"/>
<polyline points="724.8,173.3 743.6,178.0 762.3,187.4 781.0,201.4" fill="none" stroke="#d4d4d4" stroke-width="1.4" stroke-linejoin="round" stroke-linecap="round" opacity="0.9"/>
<polyline points="734.2,187.4 752.9,196.7 771.7,210.8 790.4,220.1" fill="none" stroke="#c4c4c4" stroke-width="1.1" stroke-linejoin="round" stroke-linecap="round" opacity="0.8"/>
<polyline points="743.6,206.1 762.3,220.1 781.0,234.2 799.8,234.2" fill="none" stroke="#bcbcbc" stroke-width="1.0" stroke-linejoin="round" stroke-linecap="round" opacity="0.7"/>
<polyline points="706.1,262.3 724.8,252.9 748.2,255.3 762.3,243.6 790.4,243.6 804.4,234.2" fill="none" stroke="#c4c4c4" stroke-width="1.2" stroke-linejoin="round" stroke-linecap="round" opacity="0.8"/>
<polyline points="729.5,281.0 752.9,285.7 781.0,276.3 799.8,262.3 813.8,238.9 819.4,224.8" fill="none" stroke="#d8d8d8" stroke-width="1.5" stroke-linejoin="round" stroke-linecap="round" opacity="0.9"/>
<polyline points="528.1,174.2 527.2,206.1 532.8,234.2 546.8,262.3 570.3,286.7" fill="none" stroke="#b8b8b8" stroke-width="1.2" stroke-linejoin="round" stroke-linecap="round" opacity="0.8"/>
<polyline points="570.3,286.7 617.1,281.0 654.6,274.0 687.4,270.7 701.4,267.9" fill="none" stroke="#c0c0c0" stroke-width="1.3" stroke-linejoin="round" stroke-linecap="round" opacity="0.85"/>
<polyline points="600.7,126.5 612.4,140.5 621.8,154.6 626.5,178.0" fill="none" stroke="#bcbcbc" stroke-width="1.1" stroke-linejoin="round" stroke-linecap="round" opacity="0.7"/>
<polyline points="605.4,121.8 619.4,135.8 628.8,154.6 633.5,175.6" fill="none" stroke="#b0b0b0" stroke-width="1.0" stroke-linejoin="round" stroke-linecap="round" opacity="0.6"/>
<polyline points="612.4,117.1 626.5,131.1 638.2,154.6 640.5,174.2" fill="none" stroke="#b0b0b0" stroke-width="1.0" stroke-linejoin="round" stroke-linecap="round" opacity="0.6"/>
<polyline points="640.5,79.6 654.6,93.7 678.0,93.7 696.7,84.3" fill="none" stroke="#b0b0b0" stroke-width="1.0" stroke-linejoin="round" stroke-linecap="round" opacity="0.6"/>
<polyline points="654.6,107.7 668.6,121.8 687.4,121.8 706.1,117.1" fill="none" stroke="#adadad" stroke-width="1.0" stroke-linejoin="round" stroke-linecap="round" opacity="0.6"/>
<polyline points="692.0,70.3 701.4,93.7 708.4,121.8 713.1,140.5" fill="none" stroke="#b8b8b8" stroke-width="1.1" stroke-linejoin="round" stroke-linecap="round" opacity="0.7"/>
<polyline points="685.0,74.9 694.4,98.4 700.5,126.5 706.1,145.2" fill="none" stroke="#acacac" stroke-width="1.0" stroke-linejoin="round" stroke-linecap="round" opacity="0.6"/>
<polyline points="635.8,14.1 654.6,23.4 673.3,23.4 687.4,14.1" fill="none" stroke="#b4b4b4" stroke-width="1.0" stroke-linejoin="round" stroke-linecap="round" opacity="0.7"/>
<polyline points="631.1,28.1 654.6,37.5 678.0,35.1 689.7,28.1" fill="none" stroke="#b0b0b0" stroke-width="1.0" stroke-linejoin="round" stroke-linecap="round" opacity="0.6"/>
<polyline points="640.5,46.8 659.3,53.9 678.0,49.2 689.7,42.2" fill="none" stroke="#b0b0b0" stroke-width="1.0" stroke-linejoin="round" stroke-linecap="round" opacity="0.6"/>
<polygon points="624.6,46.8 635.8,41.2 644.3,60.9 640.5,72.6 633.5,71.2 627.4,58.5" fill="#a2a2a2" stroke="#e0e0e0" stroke-width="1.0" stroke-linejoin="round"/>
<polygon points="663.9,135.8 671.4,134.0 675.2,140.5 670.5,146.1 664.9,143.3" fill="#b8b8b8" stroke="#e8e8e8" stroke-width="0.9" stroke-linejoin="round"/>
<polygon points="669.6,152.2 680.3,148.9 689.7,140.5 699.1,142.9 694.4,152.2 685.0,156.9 681.7,166.3 673.3,167.7 667.7,160.2" fill="#b0b0b0" stroke="#e8e8e8" stroke-width="0.9" stroke-linejoin="round"/>
<polygon points="689.7,100.7 694.8,98.4 697.7,110.1 693.0,115.2 689.2,108.7" fill="#b4b4b4" stroke="#e8e8e8" stroke-width="0.9" stroke-linejoin="round"/>
<polygon points="758.5,230.4 769.3,227.2 777.3,233.3 774.0,243.6 763.2,244.5 757.6,237.9" fill="#a8a8a8" stroke="#e8e8e8" stroke-width="0.9" stroke-linejoin="round"/>
<polygon points="781.0,230.4 792.7,228.6 800.7,236.5 797.4,248.2 786.7,250.6 781.0,241.2" fill="#a4a4a4" stroke="#e8e8e8" stroke-width="0.9" stroke-linejoin="round"/>
<polygon points="701.4,213.1 708.0,210.8 710.8,219.2 705.2,222.0 700.5,218.3" fill="#c0c0c0" stroke="#e8e8e8" stroke-width="0.9" stroke-linejoin="round"/>
<polygon points="666.3,224.8 674.2,229.5 680.3,241.2 677.0,243.6 668.6,234.2" fill="#b4b4b4" stroke="#e8e8e8" stroke-width="0.9" stroke-linejoin="round"/>
<polygon points="755.3,70.3 771.7,74.9 781.0,70.3 785.7,79.6 771.7,86.7 762.3,93.7 752.9,91.3 756.7,80.6" fill="#a6a6a6" stroke="#e8e8e8" stroke-width="0.9" stroke-linejoin="round"/>
<polygon points="724.8,119.4 743.6,122.7 755.3,133.5 743.6,140.5 729.5,136.8 723.0,127.4" fill="#9c9c9c" stroke="#e8e8e8" stroke-width="0.9" stroke-linejoin="round"/>
<polygon points="741.2,133.5 752.9,131.1 756.7,140.5 745.9,144.3" fill="#b6b6b6" stroke="#e8e8e8" stroke-width="0.9" stroke-linejoin="round"/>
<polygon points="781.0,37.5 799.8,42.2 806.8,56.2 792.7,58.5 781.0,49.2" fill="#9a9a9a" stroke="#e8e8e8" stroke-width="0.9" stroke-linejoin="round"/>
<polygon points="806.8,58.5 814.8,60.9 818.5,74.9 811.5,79.6 806.8,70.3" fill="#b0b0b0" stroke="#e8e8e8" stroke-width="0.9" stroke-linejoin="round"/>
<polygon points="870.0,16.4 879.4,18.7 877.5,24.4 870.0,22.5" fill="#c4c4c4" stroke="#e8e8e8" stroke-width="0.9" stroke-linejoin="round"/>
<polygon points="887.8,29.0 894.4,31.9 897.2,41.2 891.6,44.5 886.9,37.5" fill="#c0c0c0" stroke="#e8e8e8" stroke-width="0.9" stroke-linejoin="round"/>
<polygon points="909.8,21.1 921.5,16.4 923.9,25.8 914.5,29.0" fill="#bcbcbc" stroke="#e8e8e8" stroke-width="0.9" stroke-linejoin="round"/>
<polygon points="916.9,39.8 928.6,37.5 933.3,46.8 923.9,51.5 917.8,47.8" fill="#b8b8b8" stroke="#e8e8e8" stroke-width="0.9" stroke-linejoin="round"/>
<polygon points="844.3,105.4 858.3,102.1 867.7,110.1 860.7,120.8 848.9,119.4" fill="#a8a8a8" stroke="#e8e8e8" stroke-width="0.9" stroke-linejoin="round"/>
<polygon points="870.0,96.0 881.7,93.7 885.0,105.4 874.7,108.7" fill="#b4b4b4" stroke="#e8e8e8" stroke-width="0.9" stroke-linejoin="round"/>
<polygon points="909.8,126.5 921.5,124.1 925.3,135.8 914.5,138.2" fill="#a0a0a0" stroke="#e8e8e8" stroke-width="0.9" stroke-linejoin="round"/>
<polygon points="898.1,229.5 911.2,227.6 912.2,234.2 900.5,236.5" fill="#b0b0b0" stroke="#e8e8e8" stroke-width="0.9" stroke-linejoin="round"/>
<polygon points="886.4,252.9 900.5,243.6 903.7,248.2 892.5,258.5" fill="#a8a8a8" stroke="#e8e8e8" stroke-width="0.9" stroke-linejoin="round"/>
<polygon points="537.5,199.1 544.5,195.8 546.8,203.7 541.2,208.4" fill="#c8c8c8" stroke="#e8e8e8" stroke-width="0.9" stroke-linejoin="round"/>
<polygon points="619.4,264.6 625.5,263.2 627.4,272.6 621.8,275.4" fill="#d0d0d0" stroke="#e8e8e8" stroke-width="0.9" stroke-linejoin="round"/>
<polygon points="607.7,255.3 613.3,256.7 612.4,262.3 606.8,260.4" fill="#c8c8c8" stroke="#e8e8e8" stroke-width="0.9" stroke-linejoin="round"/>
<polygon points="542.2,72.6 551.5,70.3 553.9,79.6 545.9,82.0" fill="#b8b8b8" stroke="#e8e8e8" stroke-width="0.9" stroke-linejoin="round"/>
<polygon points="521.1,63.2 539.8,65.6 542.2,79.6 528.1,86.7 518.7,82.0" fill="#8e8e8e" stroke="#c8c8c8" stroke-width="0.9" stroke-linejoin="round"/>
<polygon points="518.7,138.2 537.5,140.5 556.2,147.5 546.8,159.3 528.1,163.9 518.7,161.6" fill="#b8b8b8" stroke="#eee" stroke-width="0.9" stroke-linejoin="round"/>
<polygon points="738.9,292.7 748.2,289.5 762.3,291.3 769.3,299.8 762.3,309.1 745.9,309.1 737.9,302.1" fill="#8a8a8a" stroke="#d0d0d0" stroke-width="0.9" stroke-linejoin="round"/>
<polyline points="634.8,71.9 646.3,69.8 660.7,66.7 678.0,58.9 689.5,50.3" fill="none" stroke="#d0d0d0" stroke-width="1.6" stroke-linejoin="round" stroke-linecap="round"/>
<polyline points="624.8,24.4 628.5,14.4 632.0,5.7 637.7,0.0" fill="none" stroke="#c8c8c8" stroke-width="1.5" stroke-linejoin="round" stroke-linecap="round"/>
<polyline points="560.1,17.2 574.5,12.9 591.7,11.5 611.9,5.7" fill="none" stroke="#c4c4c4" stroke-width="1.3" stroke-linejoin="round" stroke-linecap="round"/>
<polyline points="522.7,34.5 534.2,28.7 548.6,27.3 560.1,24.4" fill="none" stroke="#d0d0d0" stroke-width="1.5" stroke-linejoin="round" stroke-linecap="round"/>
<polyline points="517.0,17.2 528.5,11.5 542.9,8.6 557.2,0.0" fill="none" stroke="#c8c8c8" stroke-width="1.4" stroke-linejoin="round" stroke-linecap="round"/>
</g>
<rect x="517" y="0" width="421" height="316" filter="url(#texb)" opacity="0.08"/>
<rect x="517" y="0" width="421" height="316" filter="url(#texb2)" opacity="0.10"/>
<rect x="882.2" y="303.5" width="43.2" height="1.4" fill="#fff"/>
<text transform="translate(878.3 293.9) scale(1.0 1.06)" font-size="24" fill="#fff" stroke="#fff" stroke-width="0.2" text-anchor="start" >2 μm</text>
<text transform="translate(528.5 28.6) scale(1.0 1.06)" font-size="24" fill="#fff" stroke="#fff" stroke-width="0.2" text-anchor="start" >(b)</text>
</g>
<defs>
<clipPath id="clipc"><rect x="1020" y="0" width="420.1" height="315.6"/></clipPath>
<filter id="blc" x="-5%" y="-5%" width="110%" height="110%" color-interpolation-filters="sRGB"><feTurbulence type="fractalNoise" baseFrequency="0.08" numOctaves="2" seed="8" result="tn"/><feDisplacementMap in="SourceGraphic" in2="tn" scale="4" xChannelSelector="R" yChannelSelector="G"/><feGaussianBlur stdDeviation="0.55"/><feColorMatrix type="matrix" values="1 0 0 0 0  0 0.955 0 0 0  0 0 0.945 0 0  0 0 0 1 0"/></filter>
<filter id="blc2" x="-5%" y="-5%" width="110%" height="110%" color-interpolation-filters="sRGB"><feTurbulence type="fractalNoise" baseFrequency="0.045" numOctaves="3" seed="5" result="tn"/><feDisplacementMap in="SourceGraphic" in2="tn" scale="22" xChannelSelector="R" yChannelSelector="G"/><feGaussianBlur stdDeviation="3.2"/><feColorMatrix type="matrix" values="1 0 0 0 0  0 0.93 0 0 0  0 0 0.9 0 0  0 0 0 1 0"/></filter>
<radialGradient id="dkc"><stop offset="0" stop-color="#000" stop-opacity="1"/><stop offset="0.55" stop-color="#000" stop-opacity="0.75"/><stop offset="1" stop-color="#000" stop-opacity="0"/></radialGradient>
<filter id="texc" x="0" y="0" width="100%" height="100%"><feTurbulence type="fractalNoise" baseFrequency="0.46" numOctaves="2" seed="3"/><feColorMatrix type="matrix" values="0 0 0 0 0  0 0 0 0 0  0 0 0 0 0  2.2 0 0 0 -0.85"/></filter>
<filter id="texc2" x="0" y="0" width="100%" height="100%"><feTurbulence type="fractalNoise" baseFrequency="0.43" numOctaves="2" seed="12"/><feColorMatrix type="matrix" values="0 0 0 0 1  0 0 0 0 1  0 0 0 0 1  2.2 0 0 0 -0.85"/></filter>
<filter id="texc3" x="0" y="0" width="100%" height="100%"><feTurbulence type="fractalNoise" baseFrequency="0.12" numOctaves="2" seed="31"/><feColorMatrix type="matrix" values="0 0 0 0 0  0 0 0 0 0  0 0 0 0 0  2.4 0 0 0 -0.9"/></filter>
</defs>
<g id="panel-c" clip-path="url(#clipc)">
<rect x="1019" y="0" width="423" height="316" fill="#b2aaa8"/>
<g filter="url(#blc)">
<polygon points="990.5,-9.5 1456.6,-9.5 1456.6,332.9 990.5,332.9" fill="#b2b2b2" stroke="#dcdcdc" stroke-opacity="0.00" stroke-width="3.2" stroke-linejoin="round"/>
<polygon points="990.5,-9.5 1456.6,-9.5 1456.6,332.9 990.5,332.9" fill="none" stroke="#3a3a3a" stroke-opacity="0.00" stroke-width="1.1" stroke-linejoin="round" stroke-dasharray="4 0.8"/>
<polygon points="1294.9,114.1 1332.9,95.1 1351.9,90.4 1380.5,123.7 1409.0,142.7 1447.1,156.9 1447.1,323.4 1190.2,323.4 1180.7,285.4 1195.0,247.3 1190.2,228.3 1204.5,190.2 1242.6,180.7 1242.6,156.9 1266.3,152.2 1285.4,137.9" fill="#8a8a8a" stroke="#dcdcdc" stroke-opacity="0.09" stroke-width="3.2" stroke-linejoin="round"/>
<polygon points="1294.9,114.1 1332.9,95.1 1351.9,90.4 1380.5,123.7 1409.0,142.7 1447.1,156.9 1447.1,323.4 1190.2,323.4 1180.7,285.4 1195.0,247.3 1190.2,228.3 1204.5,190.2 1242.6,180.7 1242.6,156.9 1266.3,152.2 1285.4,137.9" fill="none" stroke="#3a3a3a" stroke-opacity="0.20" stroke-width="1.1" stroke-linejoin="round" stroke-dasharray="4 0.8"/>
<polygon points="1261.6,45.2 1294.9,52.3 1332.9,64.2 1371.0,71.3 1404.3,76.1 1447.1,97.5 1447.1,156.9 1409.0,142.7 1380.5,123.7 1351.9,90.4 1332.9,95.1 1304.4,95.1 1285.4,85.6 1256.8,95.1 1237.8,90.4 1233.0,71.3 1247.3,61.8" fill="#a9a9a9" stroke="#dcdcdc" stroke-opacity="0.23" stroke-width="3.2" stroke-linejoin="round"/>
<polygon points="1261.6,45.2 1294.9,52.3 1332.9,64.2 1371.0,71.3 1404.3,76.1 1447.1,97.5 1447.1,156.9 1409.0,142.7 1380.5,123.7 1351.9,90.4 1332.9,95.1 1304.4,95.1 1285.4,85.6 1256.8,95.1 1237.8,90.4 1233.0,71.3 1247.3,61.8" fill="none" stroke="#3a3a3a" stroke-opacity="0.50" stroke-width="1.1" stroke-linejoin="round" stroke-dasharray="4 0.8"/>
<polygon points="1071.3,14.3 1104.6,2.4 1142.7,-2.4 1147.4,19.0 1128.4,38.0 1114.1,71.3 1090.4,52.3 1080.9,33.3" fill="#9c9c9c" stroke="#dcdcdc" stroke-opacity="0.27" stroke-width="3.2" stroke-linejoin="round"/>
<polygon points="1071.3,14.3 1104.6,2.4 1142.7,-2.4 1147.4,19.0 1128.4,38.0 1114.1,71.3 1090.4,52.3 1080.9,33.3" fill="none" stroke="#3a3a3a" stroke-opacity="0.60" stroke-width="1.1" stroke-linejoin="round" stroke-dasharray="4 0.8"/>
<polygon points="1133.2,19.0 1156.9,2.4 1247.3,-2.4 1259.2,33.3 1247.3,61.8 1233.0,71.3 1190.2,73.7 1166.5,71.3 1142.7,47.6 1128.4,38.0" fill="#868686" stroke="#dcdcdc" stroke-opacity="0.27" stroke-width="3.2" stroke-linejoin="round"/>
<polygon points="1133.2,19.0 1156.9,2.4 1247.3,-2.4 1259.2,33.3 1247.3,61.8 1233.0,71.3 1190.2,73.7 1166.5,71.3 1142.7,47.6 1128.4,38.0" fill="none" stroke="#3a3a3a" stroke-opacity="0.60" stroke-width="1.1" stroke-linejoin="round" stroke-dasharray="4 0.8"/>
<polygon points="1166.5,14.3 1199.8,9.5 1209.3,47.6 1180.7,66.6 1161.7,47.6" fill="#7e7e7e" stroke="#dcdcdc" stroke-opacity="0.14" stroke-width="3.2" stroke-linejoin="round"/>
<polygon points="1166.5,14.3 1199.8,9.5 1209.3,47.6 1180.7,66.6 1161.7,47.6" fill="none" stroke="#3a3a3a" stroke-opacity="0.30" stroke-width="1.1" stroke-linejoin="round" stroke-dasharray="4 0.8"/>
<polygon points="1090.4,52.3 1114.1,71.3 1142.7,47.6 1166.5,71.3 1180.7,90.4 1161.7,95.1 1133.2,85.6 1109.4,76.1" fill="#8b8b8b" stroke="#dcdcdc" stroke-opacity="0.27" stroke-width="3.2" stroke-linejoin="round"/>
<polygon points="1090.4,52.3 1114.1,71.3 1142.7,47.6 1166.5,71.3 1180.7,90.4 1161.7,95.1 1133.2,85.6 1109.4,76.1" fill="none" stroke="#3a3a3a" stroke-opacity="0.60" stroke-width="1.1" stroke-linejoin="round" stroke-dasharray="4 0.8"/>
<polygon points="1052.3,61.8 1090.4,52.3 1109.4,76.1 1133.2,85.6 1152.2,118.9 1156.9,133.2 1133.2,156.9 1118.9,166.5 1080.9,180.7 1061.8,156.9 1052.3,118.9" fill="#a0a0a0" stroke="#dcdcdc" stroke-opacity="0.27" stroke-width="3.2" stroke-linejoin="round"/>
<polygon points="1052.3,61.8 1090.4,52.3 1109.4,76.1 1133.2,85.6 1152.2,118.9 1156.9,133.2 1133.2,156.9 1118.9,166.5 1080.9,180.7 1061.8,156.9 1052.3,118.9" fill="none" stroke="#3a3a3a" stroke-opacity="0.60" stroke-width="1.1" stroke-linejoin="round" stroke-dasharray="4 0.8"/>
<polygon points="1014.3,52.3 1047.6,38.0 1052.3,61.8 1052.3,85.6 1028.5,95.1 1014.3,95.1" fill="#a2a2a2" stroke="#dcdcdc" stroke-opacity="0.27" stroke-width="3.2" stroke-linejoin="round"/>
<polygon points="1014.3,52.3 1047.6,38.0 1052.3,61.8 1052.3,85.6 1028.5,95.1 1014.3,95.1" fill="none" stroke="#3a3a3a" stroke-opacity="0.60" stroke-width="1.1" stroke-linejoin="round" stroke-dasharray="4 0.8"/>
<polygon points="1014.3,95.1 1028.5,95.1 1052.3,85.6 1052.3,118.9 1061.8,156.9 1052.3,156.9 1033.3,185.5 1014.3,180.7" fill="#adadad" stroke="#dcdcdc" stroke-opacity="0.14" stroke-width="3.2" stroke-linejoin="round"/>
<polygon points="1014.3,95.1 1028.5,95.1 1052.3,85.6 1052.3,118.9 1061.8,156.9 1052.3,156.9 1033.3,185.5 1014.3,180.7" fill="none" stroke="#3a3a3a" stroke-opacity="0.30" stroke-width="1.1" stroke-linejoin="round" stroke-dasharray="4 0.8"/>
<polygon points="1176.0,137.9 1190.2,99.9 1209.3,118.9 1223.5,137.9 1237.8,156.9 1242.6,180.7 1209.3,176.0 1176.0,161.7" fill="#8f8f8f" stroke="#dcdcdc" stroke-opacity="0.27" stroke-width="3.2" stroke-linejoin="round"/>
<polygon points="1176.0,137.9 1190.2,99.9 1209.3,118.9 1223.5,137.9 1237.8,156.9 1242.6,180.7 1209.3,176.0 1176.0,161.7" fill="none" stroke="#3a3a3a" stroke-opacity="0.60" stroke-width="1.1" stroke-linejoin="round" stroke-dasharray="4 0.8"/>
<polygon points="1118.9,166.5 1133.2,156.9 1156.9,133.2 1176.0,161.7 1209.3,176.0 1204.5,190.2 1190.2,199.8 1161.7,214.0 1137.9,190.2" fill="#9c9c9c" stroke="#dcdcdc" stroke-opacity="0.27" stroke-width="3.2" stroke-linejoin="round"/>
<polygon points="1118.9,166.5 1133.2,156.9 1156.9,133.2 1176.0,161.7 1209.3,176.0 1204.5,190.2 1190.2,199.8 1161.7,214.0 1137.9,190.2" fill="none" stroke="#3a3a3a" stroke-opacity="0.60" stroke-width="1.1" stroke-linejoin="round" stroke-dasharray="4 0.8"/>
<polygon points="1033.3,185.5 1052.3,156.9 1066.6,161.7 1080.9,180.7 1085.6,214.0 1090.4,237.8 1071.3,247.3 1047.6,256.8 1028.5,252.1 1021.4,237.8 1033.3,214.0" fill="#9b9b9b" stroke="#dcdcdc" stroke-opacity="0.27" stroke-width="3.2" stroke-linejoin="round"/>
<polygon points="1033.3,185.5 1052.3,156.9 1066.6,161.7 1080.9,180.7 1085.6,214.0 1090.4,237.8 1071.3,247.3 1047.6,256.8 1028.5,252.1 1021.4,237.8 1033.3,214.0" fill="none" stroke="#3a3a3a" stroke-opacity="0.60" stroke-width="1.1" stroke-linejoin="round" stroke-dasharray="4 0.8"/>
<polygon points="1047.6,259.2 1071.3,247.3 1090.4,252.1 1104.6,266.3 1114.1,294.9 1109.4,323.4 1061.8,323.4 1057.1,285.4" fill="#949494" stroke="#dcdcdc" stroke-opacity="0.27" stroke-width="3.2" stroke-linejoin="round"/>
<polygon points="1047.6,259.2 1071.3,247.3 1090.4,252.1 1104.6,266.3 1114.1,294.9 1109.4,323.4 1061.8,323.4 1057.1,285.4" fill="none" stroke="#3a3a3a" stroke-opacity="0.60" stroke-width="1.1" stroke-linejoin="round" stroke-dasharray="4 0.8"/>
<polygon points="1090.4,237.8 1118.9,256.8 1156.9,266.3 1152.2,280.6 1133.2,280.6 1104.6,266.3" fill="#a3a3a3" stroke="#dcdcdc" stroke-opacity="0.27" stroke-width="3.2" stroke-linejoin="round"/>
<polygon points="1090.4,237.8 1118.9,256.8 1156.9,266.3 1152.2,280.6 1133.2,280.6 1104.6,266.3" fill="none" stroke="#3a3a3a" stroke-opacity="0.60" stroke-width="1.1" stroke-linejoin="round" stroke-dasharray="4 0.8"/>
<polygon points="1156.9,266.3 1195.0,247.3 1180.7,285.4 1190.2,323.4 1161.7,323.4 1180.7,285.4" fill="#9a9a9a" stroke="#dcdcdc" stroke-opacity="0.18" stroke-width="3.2" stroke-linejoin="round"/>
<polygon points="1156.9,266.3 1195.0,247.3 1180.7,285.4 1190.2,323.4 1161.7,323.4 1180.7,285.4" fill="none" stroke="#3a3a3a" stroke-opacity="0.40" stroke-width="1.1" stroke-linejoin="round" stroke-dasharray="4 0.8"/>
<polygon points="1209.3,118.9 1225.9,114.1 1228.3,133.2 1242.6,156.9 1237.8,156.9 1223.5,137.9" fill="#a0a0a0" stroke="#dcdcdc" stroke-opacity="0.18" stroke-width="3.2" stroke-linejoin="round"/>
<polygon points="1209.3,118.9 1225.9,114.1 1228.3,133.2 1242.6,156.9 1237.8,156.9 1223.5,137.9" fill="none" stroke="#3a3a3a" stroke-opacity="0.40" stroke-width="1.1" stroke-linejoin="round" stroke-dasharray="4 0.8"/>
<polygon points="1294.9,142.7 1323.4,156.9 1332.9,190.2 1304.4,199.8 1285.4,171.2" fill="#a2a2a2" stroke="#dcdcdc" stroke-opacity="0.09" stroke-width="3.2" stroke-linejoin="round"/>
<polygon points="1294.9,142.7 1323.4,156.9 1332.9,190.2 1304.4,199.8 1285.4,171.2" fill="none" stroke="#3a3a3a" stroke-opacity="0.20" stroke-width="1.1" stroke-linejoin="round" stroke-dasharray="4 0.8"/>
<polygon points="1323.4,247.3 1375.7,256.8 1380.5,280.6 1332.9,285.4" fill="#9c9c9c" stroke="#dcdcdc" stroke-opacity="0.09" stroke-width="3.2" stroke-linejoin="round"/>
<polygon points="1323.4,247.3 1375.7,256.8 1380.5,280.6 1332.9,285.4" fill="none" stroke="#3a3a3a" stroke-opacity="0.20" stroke-width="1.1" stroke-linejoin="round" stroke-dasharray="4 0.8"/>
<polygon points="1209.3,178.4 1228.3,176.9 1223.5,190.2 1209.3,190.2" fill="#c4c4c4" stroke="#dcdcdc" stroke-opacity="0.09" stroke-width="3.2" stroke-linejoin="round"/>
<polygon points="1209.3,178.4 1228.3,176.9 1223.5,190.2 1209.3,190.2" fill="none" stroke="#3a3a3a" stroke-opacity="0.20" stroke-width="1.1" stroke-linejoin="round" stroke-dasharray="4 0.8"/>
<polygon points="1293.1,81.5 1318.1,74.3 1343.2,85.1 1350.4,95.8 1339.6,106.6 1318.1,110.1 1296.7,99.4" fill="#a6a6a6" stroke="#dcdcdc" stroke-opacity="0.27" stroke-width="3.2" stroke-linejoin="round"/>
<polygon points="1293.1,81.5 1318.1,74.3 1343.2,85.1 1350.4,95.8 1339.6,106.6 1318.1,110.1 1296.7,99.4" fill="none" stroke="#3a3a3a" stroke-opacity="0.60" stroke-width="1.1" stroke-linejoin="round" stroke-dasharray="4 0.8"/>
<polygon points="1336.0,117.3 1361.1,106.6 1386.2,95.8 1400.5,106.6 1393.3,131.6 1371.8,145.9 1346.8,138.8" fill="#8c8c8c" stroke="#dcdcdc" stroke-opacity="0.27" stroke-width="3.2" stroke-linejoin="round"/>
<polygon points="1336.0,117.3 1361.1,106.6 1386.2,95.8 1400.5,106.6 1393.3,131.6 1371.8,145.9 1346.8,138.8" fill="none" stroke="#3a3a3a" stroke-opacity="0.60" stroke-width="1.1" stroke-linejoin="round" stroke-dasharray="4 0.8"/>
<polygon points="1379.0,81.5 1393.3,70.8 1414.8,88.7 1429.1,106.6 1414.8,120.9 1400.5,106.6" fill="#9e9e9e" stroke="#dcdcdc" stroke-opacity="0.27" stroke-width="3.2" stroke-linejoin="round"/>
<polygon points="1379.0,81.5 1393.3,70.8 1414.8,88.7 1429.1,106.6 1414.8,120.9 1400.5,106.6" fill="none" stroke="#3a3a3a" stroke-opacity="0.60" stroke-width="1.1" stroke-linejoin="round" stroke-dasharray="4 0.8"/>
<polygon points="1314.6,120.9 1336.0,117.3 1346.8,138.8 1343.2,160.3 1321.7,167.4 1311.0,145.9" fill="#949494" stroke="#dcdcdc" stroke-opacity="0.27" stroke-width="3.2" stroke-linejoin="round"/>
<polygon points="1314.6,120.9 1336.0,117.3 1346.8,138.8 1343.2,160.3 1321.7,167.4 1311.0,145.9" fill="none" stroke="#3a3a3a" stroke-opacity="0.60" stroke-width="1.1" stroke-linejoin="round" stroke-dasharray="4 0.8"/>
<polygon points="1200.0,117.3 1228.6,103.0 1239.4,131.6 1235.8,167.4 1214.3,178.2 1200.0,174.6" fill="#8c8c8c" stroke="#dcdcdc" stroke-opacity="0.23" stroke-width="3.2" stroke-linejoin="round"/>
<polygon points="1200.0,117.3 1228.6,103.0 1239.4,131.6 1235.8,167.4 1214.3,178.2 1200.0,174.6" fill="none" stroke="#3a3a3a" stroke-opacity="0.50" stroke-width="1.1" stroke-linejoin="round" stroke-dasharray="4 0.8"/>
<polygon points="1235.8,217.6 1221.5,239.0 1235.8,260.5 1264.4,267.7 1271.6,239.0" fill="#808080" stroke="#dcdcdc" stroke-opacity="0.23" stroke-width="3.2" stroke-linejoin="round"/>
<polygon points="1235.8,217.6 1221.5,239.0 1235.8,260.5 1264.4,267.7 1271.6,239.0" fill="none" stroke="#3a3a3a" stroke-opacity="0.50" stroke-width="1.1" stroke-linejoin="round" stroke-dasharray="4 0.8"/>
<polygon points="1400.5,131.6 1429.1,124.5 1443.5,138.8 1443.5,167.4 1414.8,174.6 1393.3,160.3" fill="#868686" stroke="#dcdcdc" stroke-opacity="0.27" stroke-width="3.2" stroke-linejoin="round"/>
<polygon points="1400.5,131.6 1429.1,124.5 1443.5,138.8 1443.5,167.4 1414.8,174.6 1393.3,160.3" fill="none" stroke="#3a3a3a" stroke-opacity="0.60" stroke-width="1.1" stroke-linejoin="round" stroke-dasharray="4 0.8"/>
<polygon points="1318.1,253.4 1368.3,249.8 1379.0,274.8 1350.4,289.2 1321.7,278.4" fill="#9a9a9a" stroke="#dcdcdc" stroke-opacity="0.27" stroke-width="3.2" stroke-linejoin="round"/>
<polygon points="1318.1,253.4 1368.3,249.8 1379.0,274.8 1350.4,289.2 1321.7,278.4" fill="none" stroke="#3a3a3a" stroke-opacity="0.60" stroke-width="1.1" stroke-linejoin="round" stroke-dasharray="4 0.8"/>
<polygon points="1278.8,142.4 1307.4,138.8 1311.0,160.3 1285.9,163.9" fill="#a8a8a8" stroke="#dcdcdc" stroke-opacity="0.18" stroke-width="3.2" stroke-linejoin="round"/>
<polygon points="1278.8,142.4 1307.4,138.8 1311.0,160.3 1285.9,163.9" fill="none" stroke="#3a3a3a" stroke-opacity="0.40" stroke-width="1.1" stroke-linejoin="round" stroke-dasharray="4 0.8"/>
<polygon points="1200.0,178.2 1217.9,178.2 1221.5,192.5 1200.0,196.1" fill="#b0b0b0" stroke="#dcdcdc" stroke-opacity="0.18" stroke-width="3.2" stroke-linejoin="round"/>
<polygon points="1200.0,178.2 1217.9,178.2 1221.5,192.5 1200.0,196.1" fill="none" stroke="#3a3a3a" stroke-opacity="0.40" stroke-width="1.1" stroke-linejoin="round" stroke-dasharray="4 0.8"/>
</g><g filter="url(#blc2)">
<polygon points="1233.0,95.1 1256.8,85.6 1285.4,90.4 1294.9,114.1 1285.4,137.9 1266.3,152.2 1242.6,156.9 1228.3,133.2 1225.9,114.1" fill="#666" opacity="0.8"/>
<polygon points="1247.3,190.2 1266.3,180.7 1290.1,185.5 1304.4,204.5 1299.6,228.3 1280.6,242.6 1256.8,237.8 1242.6,218.8" fill="#4e4e4e" opacity="0.85"/>
<polygon points="1347.2,204.5 1356.7,180.7 1380.5,171.2 1404.3,180.7 1418.5,204.5 1418.5,233.0 1404.3,252.1 1375.7,256.8 1356.7,242.6 1347.2,223.5" fill="#2e2e2e" opacity="0.92"/>
<polygon points="1266.3,275.8 1285.4,266.3 1309.1,275.8 1318.7,294.9 1313.9,323.4 1266.3,323.4 1261.6,299.6" fill="#444" opacity="0.85"/>
<polygon points="1190.2,285.4 1209.3,275.8 1223.5,290.1 1223.5,323.4 1190.2,323.4 1185.5,304.4" fill="#666" opacity="0.75"/>
<polygon points="1418.5,176.0 1447.1,166.5 1447.1,223.5 1428.0,218.8" fill="#666" opacity="0.6"/>
<polygon points="1309.1,199.8 1342.4,190.2 1351.9,223.5 1332.9,247.3 1309.1,237.8" fill="#777" opacity="0.6"/>
<polygon points="1332.9,266.3 1399.5,256.8 1456.6,247.3 1456.6,332.9 1332.9,332.9" fill="#5c5c5c" opacity="0.6"/>
</g><g filter="url(#blc)">
<polyline points="1029.5,260.6 1045.2,253.0 1061.8,248.3 1075.1,246.4" fill="none" stroke="#1c1c1c" stroke-width="1.8" stroke-linecap="round"/>
</g>
<rect x="1019" y="0" width="423" height="316" filter="url(#texc3)" opacity="0.07"/>
<rect x="1019" y="0" width="423" height="316" filter="url(#texc)" opacity="0.38"/>
<rect x="1019" y="0" width="423" height="316" filter="url(#texc2)" opacity="0.38"/>
<rect x="1343.8" y="303.5" width="83.4" height="1.5" fill="#fff"/>
<text transform="translate(1349.0 294.4) scale(1.0 1.06)" font-size="24.2" fill="#fff" stroke="#fff" stroke-width="0.2" text-anchor="start" >200 nm</text>
<text transform="translate(1033.3 29.2) scale(1.0 1.06)" font-size="24" fill="#fff" stroke="#fff" stroke-width="0.2" text-anchor="start" >(c)</text>
</g>
</svg>
</body></html>
